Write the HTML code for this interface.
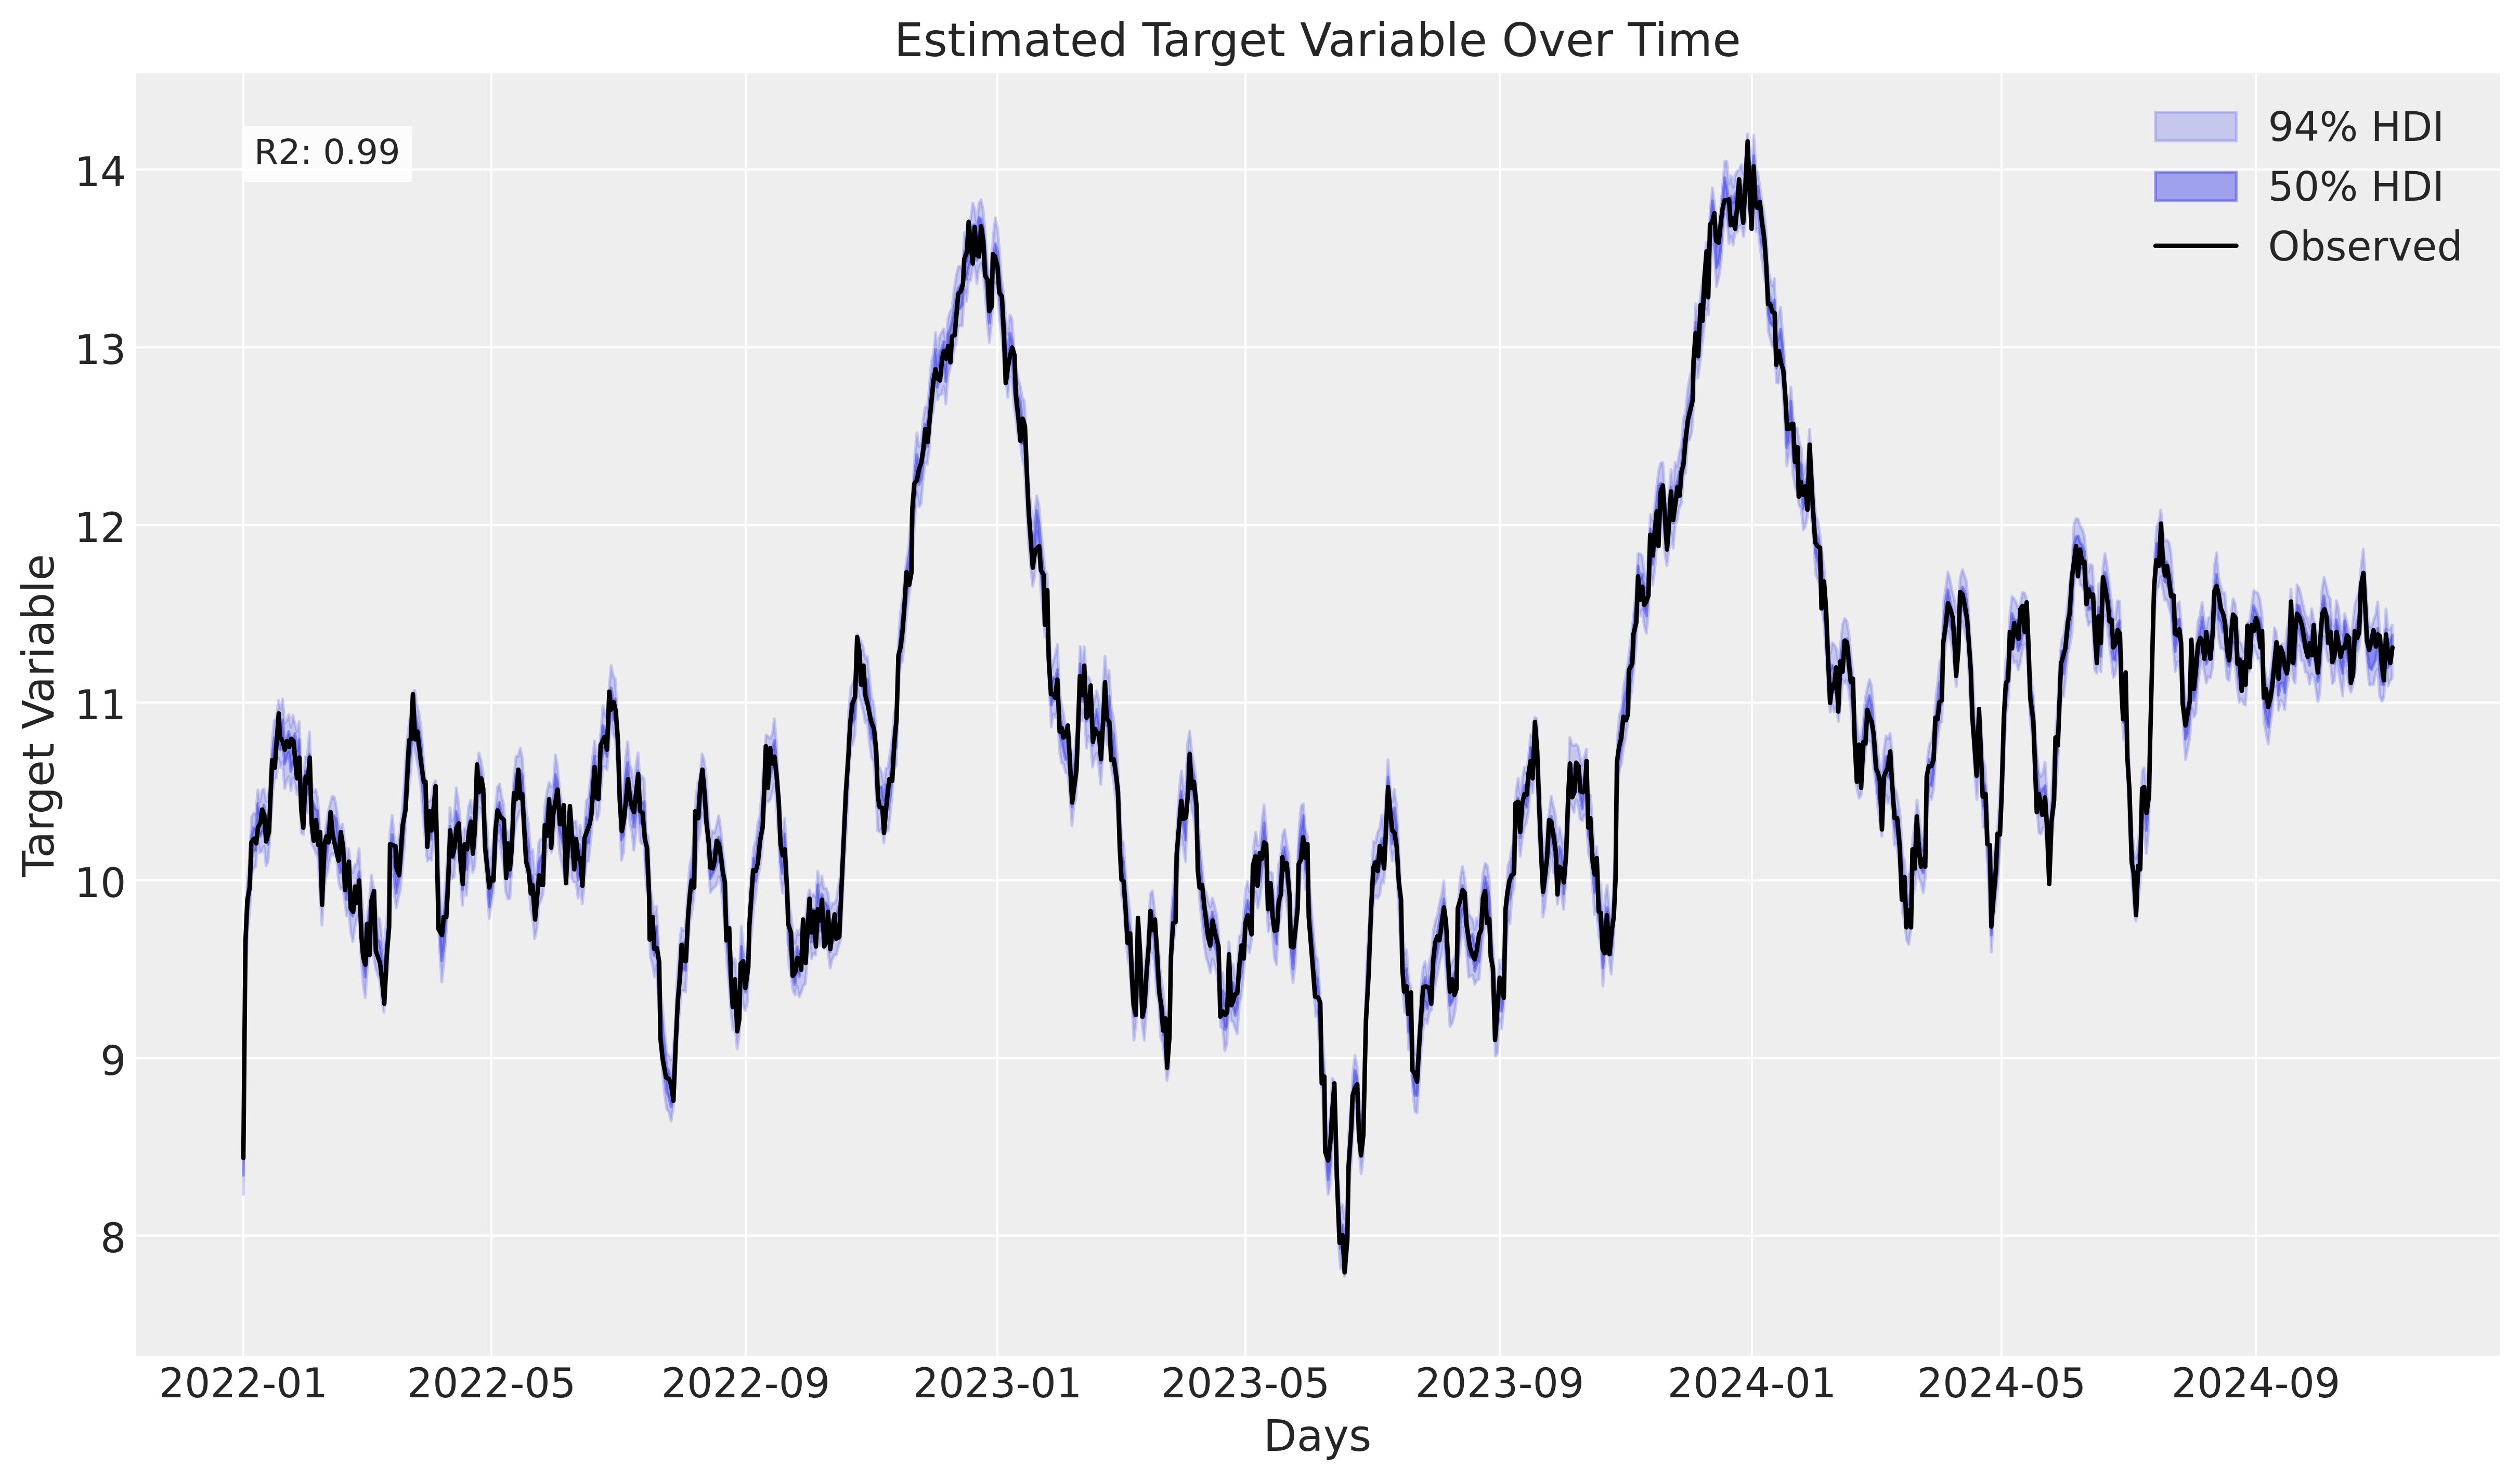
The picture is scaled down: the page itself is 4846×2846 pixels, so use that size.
<!DOCTYPE html>
<html><head><meta charset="utf-8"><title>Estimated Target Variable Over Time</title>
<style>
html,body{margin:0;padding:0;background:#fff;}
body{width:4846px;height:2846px;overflow:hidden;}
svg{display:block;}
text{font-family:"DejaVu Sans","Liberation Sans",sans-serif;fill:#262626;}
.tick{font-size:77.8px;}
.lab{font-size:83.3px;}
.ttl{font-size:88.9px;}
.leg{font-size:77.8px;}
.r2{font-size:66.7px;}
</style></head><body>
<svg width="4846" height="2846" viewBox="0 0 4846 2846">
<rect x="0" y="0" width="4846" height="2846" fill="#ffffff"/>
<rect x="262.0" y="141.0" width="4545.0" height="2466.0" fill="#eeeeee"/>
<clipPath id="ax"><rect x="262.0" y="141.0" width="4545.0" height="2466.0"/></clipPath>
<g stroke="#ffffff" stroke-width="4" clip-path="url(#ax)">
<line x1="468.0" y1="141.0" x2="468.0" y2="2607.0"/>
<line x1="945.0" y1="141.0" x2="945.0" y2="2607.0"/>
<line x1="1434.0" y1="141.0" x2="1434.0" y2="2607.0"/>
<line x1="1918.0" y1="141.0" x2="1918.0" y2="2607.0"/>
<line x1="2395.0" y1="141.0" x2="2395.0" y2="2607.0"/>
<line x1="2884.0" y1="141.0" x2="2884.0" y2="2607.0"/>
<line x1="3369.0" y1="141.0" x2="3369.0" y2="2607.0"/>
<line x1="3849.0" y1="141.0" x2="3849.0" y2="2607.0"/>
<line x1="4338.0" y1="141.0" x2="4338.0" y2="2607.0"/>
<line x1="262.0" y1="2376.0" x2="4807.0" y2="2376.0"/>
<line x1="262.0" y1="2035.0" x2="4807.0" y2="2035.0"/>
<line x1="262.0" y1="1693.0" x2="4807.0" y2="1693.0"/>
<line x1="262.0" y1="1351.0" x2="4807.0" y2="1351.0"/>
<line x1="262.0" y1="1010.0" x2="4807.0" y2="1010.0"/>
<line x1="262.0" y1="668.0" x2="4807.0" y2="668.0"/>
<line x1="262.0" y1="326.0" x2="4807.0" y2="326.0"/>
</g>
<g clip-path="url(#ax)" stroke-linejoin="round">
<polygon points="468.0,2185.0 472.0,1807.8 475.9,1689.4 479.9,1651.0 483.9,1570.5 487.9,1563.5 491.8,1564.8 495.8,1518.7 499.8,1542.0 503.8,1519.8 507.7,1516.6 511.7,1540.6 515.7,1539.8 519.7,1487.3 523.6,1421.4 527.6,1384.8 531.6,1381.8 535.5,1346.5 539.5,1362.8 543.5,1343.9 547.5,1390.8 551.4,1386.4 555.4,1373.7 559.4,1398.5 563.4,1375.0 567.3,1391.8 571.3,1406.3 575.3,1387.6 579.3,1481.8 583.2,1503.6 587.2,1455.3 591.2,1453.0 595.1,1407.6 599.1,1503.9 603.1,1523.3 607.1,1518.1 611.0,1534.2 615.0,1598.6 619.0,1672.3 623.0,1618.2 626.9,1589.4 630.9,1561.1 634.9,1545.3 638.9,1531.2 642.8,1532.8 646.8,1550.4 650.8,1582.7 654.7,1593.1 658.7,1584.8 662.7,1615.6 666.7,1652.1 670.6,1631.9 674.6,1669.3 678.6,1678.2 682.6,1662.1 686.5,1660.5 690.5,1631.6 694.5,1711.7 698.5,1761.9 702.4,1809.4 706.4,1755.6 710.4,1735.3 714.3,1683.1 718.3,1707.3 722.3,1744.3 726.3,1766.1 730.2,1766.2 734.2,1800.9 738.2,1827.4 742.2,1782.6 746.1,1740.6 750.1,1600.7 754.1,1568.1 758.1,1607.0 762.0,1633.8 766.0,1615.0 770.0,1593.7 773.9,1551.6 777.9,1500.5 781.9,1432.6 785.9,1399.2 789.8,1370.1 793.8,1330.4 797.8,1327.6 801.8,1355.9 805.7,1370.8 809.7,1399.8 813.7,1449.8 817.7,1497.1 821.6,1539.4 825.6,1540.4 829.6,1537.0 833.5,1509.4 837.5,1501.2 841.5,1604.3 845.5,1703.0 849.4,1768.5 853.4,1739.7 857.4,1690.0 861.4,1631.7 865.3,1553.0 869.3,1578.9 873.3,1569.7 877.3,1515.0 881.2,1539.1 885.2,1580.5 889.2,1635.2 893.1,1592.5 897.1,1597.1 901.1,1551.1 905.1,1538.4 909.0,1564.0 913.0,1534.8 917.0,1479.1 921.0,1447.9 924.9,1461.2 928.9,1485.2 932.9,1562.8 936.9,1598.5 940.8,1661.5 944.8,1638.5 948.8,1607.1 952.7,1558.5 956.7,1514.2 960.7,1507.7 964.7,1531.6 968.6,1546.3 972.6,1601.7 976.6,1598.6 980.6,1621.1 984.5,1558.3 988.5,1491.9 992.5,1453.8 996.4,1454.5 1000.4,1438.7 1004.4,1457.1 1008.4,1520.6 1012.3,1563.0 1016.3,1581.1 1020.3,1638.6 1024.3,1633.9 1028.2,1680.4 1032.2,1674.7 1036.2,1618.9 1040.2,1613.3 1044.1,1614.3 1048.1,1546.5 1052.1,1521.9 1056.0,1504.2 1060.0,1512.6 1064.0,1511.8 1068.0,1451.6 1071.9,1471.0 1075.9,1516.1 1079.9,1541.8 1083.9,1561.8 1087.8,1562.3 1091.8,1572.7 1095.8,1549.7 1099.8,1574.0 1103.7,1581.1 1107.7,1578.5 1111.7,1614.4 1115.6,1586.5 1119.6,1619.0 1123.6,1597.6 1127.6,1539.2 1131.5,1534.5 1135.5,1500.6 1139.5,1457.3 1143.5,1424.6 1147.4,1454.7 1151.4,1441.5 1155.4,1409.0 1159.4,1357.1 1163.3,1371.4 1167.3,1382.0 1171.3,1323.8 1175.2,1279.6 1179.2,1299.1 1183.2,1306.9 1187.2,1376.4 1191.1,1460.1 1195.1,1539.5 1199.1,1525.0 1203.1,1458.3 1207.0,1426.0 1211.0,1469.9 1215.0,1481.8 1219.0,1513.5 1222.9,1475.0 1226.9,1447.6 1230.9,1503.2 1234.8,1492.8 1238.8,1499.1 1242.8,1602.6 1246.8,1607.9 1250.7,1706.2 1254.7,1733.7 1258.7,1759.2 1262.7,1742.6 1266.6,1823.7 1270.6,1904.1 1274.6,1942.8 1278.6,1986.7 1282.5,2024.8 1286.5,2030.5 1290.5,2037.9 1294.4,2023.9 1298.4,1970.5 1302.4,1876.2 1306.4,1818.0 1310.3,1785.0 1314.3,1789.8 1318.3,1781.5 1322.3,1719.9 1326.2,1665.5 1330.2,1645.8 1334.2,1609.6 1338.2,1533.6 1342.1,1504.0 1346.1,1491.1 1350.1,1449.5 1354.0,1460.9 1358.0,1490.9 1362.0,1560.7 1366.0,1614.6 1369.9,1597.6 1373.9,1600.8 1377.9,1586.8 1381.9,1568.5 1385.8,1590.1 1389.8,1634.4 1393.8,1662.9 1397.8,1725.3 1401.7,1779.0 1405.7,1833.0 1409.7,1852.3 1413.6,1843.7 1417.6,1895.8 1421.6,1880.0 1425.6,1781.1 1429.5,1823.8 1433.5,1840.6 1437.5,1821.7 1441.5,1713.8 1445.4,1674.1 1449.4,1629.7 1453.4,1616.0 1457.4,1583.1 1461.3,1568.2 1465.3,1519.2 1469.3,1461.2 1473.2,1413.1 1477.2,1416.3 1481.2,1420.4 1485.2,1411.5 1489.1,1382.1 1493.1,1428.6 1497.1,1502.1 1501.1,1574.2 1505.0,1600.2 1509.0,1573.5 1513.0,1648.9 1517.0,1733.7 1520.9,1757.8 1524.9,1790.9 1528.9,1813.5 1532.8,1788.4 1536.8,1797.4 1540.8,1783.9 1544.8,1765.2 1548.7,1776.5 1552.7,1727.1 1556.7,1711.1 1560.7,1724.0 1564.6,1719.6 1568.6,1725.0 1572.6,1675.1 1576.6,1703.3 1580.5,1684.6 1584.5,1708.6 1588.5,1707.5 1592.4,1718.4 1596.4,1748.0 1600.4,1737.0 1604.4,1737.4 1608.3,1730.4 1612.3,1703.7 1616.3,1682.1 1620.3,1605.1 1624.2,1525.1 1628.2,1469.7 1632.2,1365.7 1636.2,1321.5 1640.1,1314.1 1644.1,1304.2 1648.1,1219.2 1652.0,1227.4 1656.0,1232.6 1660.0,1245.1 1664.0,1266.2 1667.9,1262.2 1671.9,1299.4 1675.9,1341.4 1679.9,1349.7 1683.8,1391.5 1687.8,1469.3 1691.8,1476.5 1695.8,1485.4 1699.7,1509.1 1703.7,1477.5 1707.7,1476.0 1711.6,1449.0 1715.6,1421.4 1719.6,1373.0 1723.6,1361.3 1727.5,1239.1 1731.5,1177.6 1735.5,1152.6 1739.5,1112.6 1743.4,1075.4 1747.4,1053.9 1751.4,998.6 1755.4,938.2 1759.3,875.4 1763.3,832.1 1767.3,858.6 1771.2,853.1 1775.2,807.7 1779.2,782.5 1783.2,783.8 1787.1,745.5 1791.1,695.7 1795.1,679.7 1799.1,639.6 1803.0,674.5 1807.0,646.3 1811.0,638.6 1815.0,632.3 1818.9,657.7 1822.9,613.8 1826.9,599.2 1830.8,593.1 1834.8,557.3 1838.8,530.4 1842.8,513.0 1846.7,512.2 1850.7,521.6 1854.7,447.2 1858.7,467.7 1862.6,424.5 1866.6,421.1 1870.6,390.3 1874.6,402.1 1878.5,430.4 1882.5,392.3 1886.5,383.8 1890.4,402.3 1894.4,442.9 1898.4,506.3 1902.4,541.9 1906.3,516.7 1910.3,449.3 1914.3,419.0 1918.3,438.7 1922.2,486.3 1926.2,537.1 1930.2,566.1 1934.1,610.2 1938.1,642.8 1942.1,605.9 1946.1,613.4 1950.0,671.9 1954.0,708.2 1958.0,728.5 1962.0,742.0 1965.9,764.5 1969.9,770.7 1973.9,842.0 1977.9,930.2 1981.8,968.2 1985.8,1011.8 1989.8,987.3 1993.7,953.3 1997.7,970.4 2001.7,1018.4 2005.7,1057.8 2009.6,1097.7 2013.6,1102.4 2017.6,1211.9 2021.6,1287.9 2025.5,1271.6 2029.5,1257.9 2033.5,1239.3 2037.5,1328.8 2041.4,1356.7 2045.4,1372.5 2049.4,1399.6 2053.3,1394.9 2057.3,1413.7 2061.3,1470.9 2065.3,1445.3 2069.2,1421.4 2073.2,1334.8 2077.2,1242.7 2081.2,1274.9 2085.1,1243.9 2089.1,1304.1 2093.1,1300.8 2097.1,1310.6 2101.0,1363.9 2105.0,1345.2 2109.0,1328.5 2112.9,1345.2 2116.9,1380.4 2120.9,1322.2 2124.9,1262.0 2128.8,1304.2 2132.8,1288.9 2136.8,1360.0 2140.8,1377.4 2144.7,1408.2 2148.7,1454.6 2152.7,1530.5 2156.7,1612.3 2160.6,1621.3 2164.6,1683.9 2168.6,1719.9 2172.5,1748.6 2176.5,1810.4 2180.5,1880.0 2184.5,1846.7 2188.4,1765.8 2192.4,1795.9 2196.4,1852.0 2200.4,1867.8 2204.3,1828.2 2208.3,1780.7 2212.3,1718.4 2216.3,1713.2 2220.2,1748.0 2224.2,1802.8 2228.2,1826.5 2232.1,1877.9 2236.1,1900.3 2240.1,1937.8 2244.1,1965.9 2248.0,1943.4 2252.0,1764.8 2256.0,1707.8 2260.0,1660.5 2263.9,1581.4 2267.9,1517.5 2271.9,1482.2 2275.9,1512.6 2279.8,1527.7 2283.8,1429.8 2287.8,1406.0 2291.7,1446.0 2295.7,1465.4 2299.7,1498.6 2303.7,1569.9 2307.6,1624.3 2311.6,1663.3 2315.6,1708.4 2319.6,1716.2 2323.5,1732.7 2327.5,1743.2 2331.5,1727.0 2335.5,1740.2 2339.4,1756.5 2343.4,1794.2 2347.4,1873.2 2351.3,1870.4 2355.3,1911.0 2359.3,1895.0 2363.3,1810.7 2367.2,1860.1 2371.2,1854.0 2375.2,1882.2 2379.2,1864.0 2383.1,1800.4 2387.1,1797.2 2391.1,1766.0 2395.1,1709.5 2399.0,1694.8 2403.0,1714.6 2407.0,1698.1 2410.9,1627.4 2414.9,1600.1 2418.9,1626.1 2422.9,1623.5 2426.8,1579.2 2430.8,1547.1 2434.8,1591.0 2438.8,1677.9 2442.7,1676.7 2446.7,1679.2 2450.7,1729.5 2454.7,1750.2 2458.6,1663.3 2462.6,1648.4 2466.6,1604.3 2470.5,1595.1 2474.5,1622.5 2478.5,1640.9 2482.5,1732.2 2486.4,1779.3 2490.4,1745.2 2494.4,1681.2 2498.4,1587.5 2502.3,1549.6 2506.3,1545.8 2510.3,1596.6 2514.3,1607.7 2518.2,1700.7 2522.2,1750.2 2526.2,1796.7 2530.1,1838.1 2534.1,1845.1 2538.1,1908.4 2542.1,1982.1 2546.0,2032.8 2550.0,2127.8 2554.0,2183.3 2558.0,2158.4 2561.9,2073.8 2565.9,2080.3 2569.9,2161.5 2573.9,2278.0 2577.8,2322.5 2581.8,2316.6 2585.8,2343.3 2589.7,2313.0 2593.7,2176.3 2597.7,2134.8 2601.7,2062.5 2605.6,2029.3 2609.6,2049.4 2613.6,2113.7 2617.6,2144.1 2621.5,2093.0 2625.5,1944.3 2629.5,1823.1 2633.5,1765.2 2637.4,1672.2 2641.4,1617.5 2645.4,1619.7 2649.3,1600.2 2653.3,1592.7 2657.3,1567.0 2661.3,1597.2 2665.2,1535.5 2669.2,1460.8 2673.2,1512.7 2677.2,1542.6 2681.1,1517.3 2685.1,1545.9 2689.1,1614.9 2693.1,1698.8 2697.0,1778.7 2701.0,1835.1 2705.0,1826.3 2708.9,1885.8 2712.9,1896.1 2716.9,1987.1 2720.9,2022.8 2724.8,2029.7 2728.8,1973.4 2732.8,1898.3 2736.8,1858.9 2740.7,1849.1 2744.7,1878.9 2748.7,1851.2 2752.7,1833.4 2756.6,1787.3 2760.6,1770.2 2764.6,1758.4 2768.5,1735.4 2772.5,1720.3 2776.5,1693.6 2780.5,1757.3 2784.4,1816.8 2788.4,1859.9 2792.4,1849.6 2796.4,1842.9 2800.3,1831.7 2804.3,1735.7 2808.3,1687.2 2812.3,1666.5 2816.2,1685.4 2820.2,1721.7 2824.2,1757.1 2828.1,1763.1 2832.1,1767.4 2836.1,1787.4 2840.1,1764.8 2844.0,1779.6 2848.0,1721.6 2852.0,1677.2 2856.0,1660.0 2859.9,1664.6 2863.9,1691.3 2867.9,1787.4 2871.9,1831.6 2875.8,1920.2 2879.8,1903.6 2883.8,1846.0 2887.7,1862.7 2891.7,1830.9 2895.7,1740.2 2899.7,1665.6 2903.6,1653.3 2907.6,1628.2 2911.6,1619.3 2915.6,1519.7 2919.5,1496.2 2923.5,1527.8 2927.5,1498.7 2931.4,1475.2 2935.4,1487.6 2939.4,1456.2 2943.4,1412.4 2947.3,1415.6 2951.3,1379.1 2955.3,1381.5 2959.3,1477.5 2963.2,1548.2 2967.2,1648.8 2971.2,1624.0 2975.2,1585.1 2979.1,1562.0 2983.1,1531.2 2987.1,1551.0 2991.0,1565.4 2995.0,1620.0 2999.0,1590.8 3003.0,1607.9 3006.9,1635.8 3010.9,1594.4 3014.9,1515.6 3018.9,1418.0 3022.8,1432.1 3026.8,1433.6 3030.8,1431.3 3034.8,1435.5 3038.7,1456.1 3042.7,1472.4 3046.7,1454.9 3050.6,1440.6 3054.6,1529.2 3058.6,1528.9 3062.6,1583.0 3066.5,1643.9 3070.5,1628.1 3074.5,1691.8 3078.5,1702.4 3082.4,1787.1 3086.4,1728.1 3090.4,1702.5 3094.4,1741.1 3098.3,1776.3 3102.3,1720.4 3106.3,1610.1 3110.2,1419.3 3114.2,1374.5 3118.2,1362.3 3122.2,1319.5 3126.1,1301.3 3130.1,1278.4 3134.1,1244.1 3138.1,1213.0 3142.0,1178.2 3146.0,1134.5 3150.0,1064.2 3154.0,1064.9 3157.9,1068.3 3161.9,1099.2 3165.9,1113.2 3169.8,1065.1 3173.8,989.3 3177.8,1000.8 3181.8,974.5 3185.7,937.2 3189.7,905.1 3193.7,890.2 3197.7,889.5 3201.6,954.5 3205.6,969.4 3209.6,947.8 3213.6,902.6 3217.5,934.7 3221.5,889.3 3225.5,897.3 3229.4,869.9 3233.4,857.7 3237.4,804.2 3241.4,794.0 3245.3,749.2 3249.3,726.5 3253.3,710.3 3257.3,660.6 3261.2,583.7 3265.2,614.3 3269.2,577.1 3273.2,542.6 3277.1,525.8 3281.1,466.1 3285.1,501.3 3289.0,401.3 3293.0,361.2 3297.0,389.8 3301.0,444.5 3304.9,426.5 3308.9,401.2 3312.9,353.9 3316.9,310.3 3320.8,310.3 3324.8,353.8 3328.8,337.9 3332.8,360.8 3336.7,336.9 3340.7,327.9 3344.7,326.6 3348.6,316.4 3352.6,334.7 3356.6,309.4 3360.6,257.4 3364.5,289.9 3368.5,314.9 3372.5,259.9 3376.5,321.8 3380.4,332.3 3384.4,361.1 3388.4,388.5 3392.4,410.0 3396.3,443.8 3400.3,520.0 3404.3,535.6 3408.2,550.2 3412.2,535.5 3416.2,626.1 3420.2,605.7 3424.1,590.8 3428.1,641.1 3432.1,694.2 3436.1,782.6 3440.0,772.5 3444.0,744.0 3448.0,803.1 3452.0,821.4 3455.9,823.5 3459.9,850.0 3463.9,862.6 3467.8,912.7 3471.8,898.8 3475.8,880.6 3479.8,825.8 3483.7,883.3 3487.7,938.9 3491.7,990.4 3495.7,1002.0 3499.6,1026.2 3503.6,1061.7 3507.6,1089.8 3511.6,1154.1 3515.5,1220.7 3519.5,1257.0 3523.5,1235.9 3527.4,1239.4 3531.4,1247.7 3535.4,1274.4 3539.4,1240.0 3543.3,1201.1 3547.3,1189.2 3551.3,1194.1 3555.3,1217.3 3559.2,1257.6 3563.2,1296.4 3567.2,1370.5 3571.2,1393.8 3575.1,1422.4 3579.1,1420.4 3583.1,1390.1 3587.0,1342.0 3591.0,1323.3 3595.0,1306.6 3599.0,1318.6 3602.9,1360.0 3606.9,1412.4 3610.9,1444.4 3614.9,1475.6 3618.8,1484.8 3622.8,1443.5 3626.8,1414.6 3630.8,1420.6 3634.7,1410.5 3638.7,1444.9 3642.7,1514.2 3646.6,1522.2 3650.6,1541.5 3654.6,1572.9 3658.6,1643.4 3662.5,1655.4 3666.5,1704.1 3670.5,1681.3 3674.5,1672.6 3678.4,1610.4 3682.4,1583.7 3686.4,1539.0 3690.4,1570.8 3694.3,1601.5 3698.3,1615.0 3702.3,1584.8 3706.2,1460.1 3710.2,1431.7 3714.2,1424.9 3718.2,1401.6 3722.1,1345.1 3726.1,1313.9 3730.1,1273.7 3734.1,1263.7 3738.0,1154.7 3742.0,1128.6 3746.0,1100.1 3750.0,1115.3 3753.9,1136.1 3757.9,1150.2 3761.9,1177.2 3765.8,1159.4 3769.8,1109.8 3773.8,1095.1 3777.8,1106.8 3781.7,1118.9 3785.7,1177.9 3789.7,1241.8 3793.7,1292.9 3797.6,1378.3 3801.6,1426.1 3805.6,1369.1 3809.6,1390.6 3813.5,1459.9 3817.5,1474.0 3821.5,1541.1 3825.4,1633.4 3829.4,1721.1 3833.4,1652.6 3837.4,1625.9 3841.3,1595.0 3845.3,1532.3 3849.3,1463.3 3853.3,1374.5 3857.2,1270.8 3861.2,1250.6 3865.2,1179.8 3869.1,1146.8 3873.1,1150.9 3877.1,1158.0 3881.1,1169.8 3885.0,1164.0 3889.0,1139.1 3893.0,1140.3 3897.0,1150.9 3900.9,1203.1 3904.9,1297.8 3908.9,1322.0 3912.9,1389.0 3916.8,1448.6 3920.8,1483.3 3924.8,1493.1 3928.7,1485.4 3932.7,1465.6 3936.7,1529.8 3940.7,1578.1 3944.6,1532.1 3948.6,1464.7 3952.6,1415.5 3956.6,1363.4 3960.5,1277.0 3964.5,1230.7 3968.5,1221.7 3972.5,1193.4 3976.4,1157.2 3980.4,1117.5 3984.4,1091.4 3988.3,1008.2 3992.3,997.0 3996.3,998.1 4000.3,1010.9 4004.2,1017.5 4008.2,1029.0 4012.2,1072.9 4016.2,1100.1 4020.1,1085.3 4024.1,1088.3 4028.1,1174.5 4032.1,1182.3 4036.0,1122.6 4040.0,1180.6 4044.0,1092.6 4047.9,1064.2 4051.9,1087.6 4055.9,1121.4 4059.9,1151.6 4063.8,1183.9 4067.8,1191.2 4071.8,1155.6 4075.8,1155.8 4079.7,1252.7 4083.7,1310.2 4087.7,1312.8 4091.7,1392.9 4095.6,1505.1 4099.6,1586.2 4103.6,1636.5 4107.5,1651.6 4111.5,1623.6 4115.5,1584.5 4119.5,1482.5 4123.4,1476.2 4127.4,1516.4 4131.4,1479.5 4135.4,1342.7 4139.3,1185.7 4143.3,1070.3 4147.3,1011.6 4151.3,1004.4 4155.2,980.6 4159.2,1023.2 4163.2,1040.8 4167.1,1038.1 4171.1,1043.3 4175.1,1065.6 4179.1,1126.6 4183.0,1180.5 4187.0,1161.3 4191.0,1157.5 4195.0,1209.2 4198.9,1297.9 4202.9,1357.6 4206.9,1341.1 4210.9,1299.4 4214.8,1245.3 4218.8,1267.7 4222.8,1242.3 4226.7,1195.9 4230.7,1183.2 4234.7,1158.3 4238.7,1189.7 4242.6,1209.0 4246.6,1188.1 4250.6,1187.6 4254.6,1162.4 4258.5,1086.2 4262.5,1062.7 4266.5,1110.7 4270.5,1126.6 4274.4,1141.5 4278.4,1139.5 4282.4,1194.3 4286.3,1203.8 4290.3,1182.1 4294.3,1151.7 4298.3,1161.2 4302.2,1192.2 4306.2,1233.9 4310.2,1237.6 4314.2,1253.4 4318.1,1247.7 4322.1,1196.9 4326.1,1194.2 4330.1,1164.2 4334.0,1135.6 4338.0,1137.4 4342.0,1141.3 4345.9,1152.4 4349.9,1181.4 4353.9,1279.9 4357.9,1302.8 4361.8,1320.6 4365.8,1297.4 4369.8,1267.2 4373.8,1207.4 4377.7,1216.3 4381.7,1271.8 4385.7,1240.0 4389.7,1237.3 4393.6,1252.8 4397.6,1212.4 4401.6,1191.3 4405.5,1132.8 4409.5,1191.9 4413.5,1203.9 4417.5,1124.8 4421.4,1131.2 4425.4,1147.6 4429.4,1165.0 4433.4,1182.9 4437.3,1188.5 4441.3,1206.5 4445.3,1170.6 4449.3,1191.3 4453.2,1204.8 4457.2,1238.6 4461.2,1211.4 4465.1,1134.6 4469.1,1110.2 4473.1,1125.3 4477.1,1144.0 4481.0,1151.5 4485.0,1202.2 4489.0,1202.6 4493.0,1155.1 4496.9,1169.2 4500.9,1205.1 4504.9,1221.3 4508.9,1179.8 4512.8,1195.3 4516.8,1212.7 4520.8,1227.6 4524.7,1196.1 4528.7,1161.1 4532.7,1150.0 4536.7,1135.0 4540.6,1089.3 4544.6,1056.0 4548.6,1109.4 4552.6,1176.8 4556.5,1204.1 4560.5,1205.9 4564.5,1191.7 4568.5,1181.2 4572.4,1157.8 4576.4,1219.7 4580.4,1238.6 4584.3,1239.0 4588.3,1170.8 4592.3,1210.8 4596.3,1210.6 4600.2,1201.9 4600.2,1304.8 4596.3,1308.9 4592.3,1319.1 4588.3,1274.3 4584.3,1340.6 4580.4,1348.9 4576.4,1338.5 4572.4,1286.4 4568.5,1295.0 4564.5,1316.2 4560.5,1315.9 4556.5,1317.7 4552.6,1284.6 4548.6,1222.2 4544.6,1175.7 4540.6,1201.2 4536.7,1244.3 4532.7,1256.6 4528.7,1292.5 4524.7,1317.3 4520.8,1331.2 4516.8,1318.6 4512.8,1294.4 4508.9,1271.4 4504.9,1338.5 4500.9,1313.2 4496.9,1291.6 4493.0,1270.4 4489.0,1309.6 4485.0,1314.6 4481.0,1270.7 4477.1,1271.7 4473.1,1250.5 4469.1,1224.3 4465.1,1252.0 4461.2,1332.1 4457.2,1349.8 4453.2,1321.2 4449.3,1301.6 4445.3,1295.6 4441.3,1315.4 4437.3,1293.8 4433.4,1292.7 4429.4,1270.9 4425.4,1270.5 4421.4,1241.3 4417.5,1246.4 4413.5,1313.9 4409.5,1305.2 4405.5,1249.8 4401.6,1303.8 4397.6,1322.3 4393.6,1365.1 4389.7,1351.1 4385.7,1346.9 4381.7,1366.0 4377.7,1319.1 4373.8,1328.0 4369.8,1366.7 4365.8,1394.7 4361.8,1430.7 4357.9,1411.0 4353.9,1388.1 4349.9,1291.3 4345.9,1266.3 4342.0,1267.2 4338.0,1255.4 4334.0,1241.2 4330.1,1275.0 4326.1,1290.8 4322.1,1295.5 4318.1,1355.9 4314.2,1353.2 4310.2,1344.3 4306.2,1351.1 4302.2,1321.4 4298.3,1279.2 4294.3,1266.6 4290.3,1274.2 4286.3,1308.8 4282.4,1304.4 4278.4,1252.6 4274.4,1247.1 4270.5,1247.1 4266.5,1228.2 4262.5,1182.0 4258.5,1217.8 4254.6,1284.4 4250.6,1303.8 4246.6,1301.2 4242.6,1313.6 4238.7,1291.0 4234.7,1266.4 4230.7,1285.8 4226.7,1314.0 4222.8,1371.4 4218.8,1379.2 4214.8,1361.9 4210.9,1420.6 4206.9,1441.5 4202.9,1460.6 4198.9,1404.3 4195.0,1321.6 4191.0,1272.6 4187.0,1273.5 4183.0,1291.2 4179.1,1241.2 4175.1,1184.2 4171.1,1168.7 4167.1,1153.2 4163.2,1154.8 4159.2,1133.6 4155.2,1108.7 4151.3,1127.3 4147.3,1133.3 4143.3,1181.2 4139.3,1292.4 4135.4,1458.5 4131.4,1602.9 4127.4,1641.3 4123.4,1592.4 4119.5,1594.2 4115.5,1697.0 4111.5,1736.3 4107.5,1771.3 4103.6,1748.6 4099.6,1689.1 4095.6,1614.9 4091.7,1507.7 4087.7,1430.8 4083.7,1421.3 4079.7,1357.4 4075.8,1267.5 4071.8,1270.8 4067.8,1296.1 4063.8,1302.9 4059.9,1268.4 4055.9,1236.1 4051.9,1201.9 4047.9,1182.5 4044.0,1207.8 4040.0,1291.7 4036.0,1257.6 4032.1,1294.7 4028.1,1287.6 4024.1,1196.8 4020.1,1196.0 4016.2,1202.7 4012.2,1183.4 4008.2,1138.6 4004.2,1127.2 4000.3,1124.8 3996.3,1099.9 3992.3,1103.4 3988.3,1127.0 3984.4,1218.6 3980.4,1242.2 3976.4,1259.0 3972.5,1302.4 3968.5,1339.5 3964.5,1332.5 3960.5,1396.4 3956.6,1480.6 3952.6,1522.2 3948.6,1580.4 3944.6,1653.6 3940.7,1687.7 3936.7,1645.8 3932.7,1592.0 3928.7,1592.0 3924.8,1604.0 3920.8,1601.5 3916.8,1554.6 3912.9,1503.0 3908.9,1422.5 3904.9,1392.5 3900.9,1306.9 3897.0,1248.7 3893.0,1237.5 3889.0,1250.7 3885.0,1274.9 3881.1,1288.3 3877.1,1271.8 3873.1,1274.5 3869.1,1259.4 3865.2,1294.6 3861.2,1356.4 3857.2,1371.7 3853.3,1478.9 3849.3,1569.6 3845.3,1638.6 3841.3,1705.7 3837.4,1740.6 3833.4,1765.4 3829.4,1830.6 3825.4,1733.4 3821.5,1656.3 3817.5,1592.5 3813.5,1590.8 3809.6,1497.8 3805.6,1485.7 3801.6,1537.5 3797.6,1491.0 3793.7,1420.0 3789.7,1371.4 3785.7,1281.0 3781.7,1228.6 3777.8,1215.6 3773.8,1195.6 3769.8,1209.5 3765.8,1267.6 3761.9,1320.0 3757.9,1278.5 3753.9,1246.0 3750.0,1228.1 3746.0,1213.5 3742.0,1239.8 3738.0,1268.5 3734.1,1388.0 3730.1,1392.1 3726.1,1425.1 3722.1,1455.5 3718.2,1519.0 3714.2,1537.3 3710.2,1530.6 3706.2,1560.0 3702.3,1690.5 3698.3,1717.1 3694.3,1697.0 3690.4,1689.9 3686.4,1671.7 3682.4,1707.3 3678.4,1722.0 3674.5,1789.0 3670.5,1816.5 3666.5,1807.8 3662.5,1773.1 3658.6,1756.0 3654.6,1695.8 3650.6,1649.1 3646.6,1622.5 3642.7,1625.0 3638.7,1556.4 3634.7,1531.5 3630.8,1545.4 3626.8,1528.6 3622.8,1562.8 3618.8,1608.2 3614.9,1578.3 3610.9,1553.7 3606.9,1503.2 3602.9,1477.6 3599.0,1430.0 3595.0,1425.2 3591.0,1422.6 3587.0,1447.8 3583.1,1484.6 3579.1,1528.3 3575.1,1534.8 3571.2,1517.3 3567.2,1475.7 3563.2,1406.4 3559.2,1362.2 3555.3,1329.1 3551.3,1308.4 3547.3,1313.8 3543.3,1307.4 3539.4,1350.4 3535.4,1387.5 3531.4,1359.6 3527.4,1369.4 3523.5,1355.2 3519.5,1369.9 3515.5,1329.6 3511.6,1258.5 3507.6,1199.5 3503.6,1171.8 3499.6,1126.5 3495.7,1114.4 3491.7,1105.4 3487.7,1039.6 3483.7,999.8 3479.8,943.3 3475.8,992.8 3471.8,1012.6 3467.8,1018.7 3463.9,977.9 3459.9,972.4 3455.9,948.0 3452.0,936.0 3448.0,913.2 3444.0,849.8 3440.0,875.3 3436.1,896.0 3432.1,810.0 3428.1,749.3 3424.1,709.5 3420.2,736.9 3416.2,735.5 3412.2,652.3 3408.2,666.9 3404.3,652.0 3400.3,635.6 3396.3,554.3 3392.4,527.8 3388.4,502.1 3384.4,472.3 3380.4,439.3 3376.5,444.9 3372.5,373.7 3368.5,429.1 3364.5,401.0 3360.6,358.4 3356.6,426.0 3352.6,454.5 3348.6,432.4 3344.7,435.1 3340.7,446.9 3336.7,444.9 3332.8,471.3 3328.8,454.3 3324.8,468.6 3320.8,420.6 3316.9,411.7 3312.9,454.5 3308.9,512.9 3304.9,534.2 3301.0,551.5 3297.0,493.1 3293.0,469.7 3289.0,514.0 3285.1,605.7 3281.1,594.3 3277.1,630.5 3273.2,664.0 3269.2,698.4 3265.2,727.3 3261.2,698.3 3257.3,774.6 3253.3,830.9 3249.3,845.2 3245.3,849.6 3241.4,909.5 3237.4,913.5 3233.4,969.3 3229.4,975.3 3225.5,999.8 3221.5,1009.8 3217.5,1054.2 3213.6,1024.5 3209.6,1055.4 3205.6,1088.0 3201.6,1064.7 3197.7,1007.0 3193.7,997.2 3189.7,1009.4 3185.7,1052.0 3181.8,1099.7 3177.8,1125.4 3173.8,1101.4 3169.8,1179.4 3165.9,1218.1 3161.9,1203.6 3157.9,1170.7 3154.0,1184.9 3150.0,1165.4 3146.0,1247.4 3142.0,1284.9 3138.1,1327.4 3134.1,1349.6 3130.1,1389.7 3126.1,1419.3 3122.2,1437.1 3118.2,1468.8 3114.2,1478.7 3110.2,1538.9 3106.3,1714.5 3102.3,1822.9 3098.3,1873.0 3094.4,1844.6 3090.4,1813.6 3086.4,1839.0 3082.4,1896.3 3078.5,1818.1 3074.5,1800.4 3070.5,1743.5 3066.5,1759.1 3062.6,1706.4 3058.6,1655.5 3054.6,1640.5 3050.6,1570.8 3046.7,1566.9 3042.7,1578.2 3038.7,1574.7 3034.8,1546.8 3030.8,1537.5 3026.8,1562.2 3022.8,1552.6 3018.9,1544.4 3014.9,1619.6 3010.9,1693.8 3006.9,1748.7 3003.0,1722.4 2999.0,1710.5 2995.0,1738.7 2991.0,1684.0 2987.1,1676.4 2983.1,1641.2 2979.1,1676.0 2975.2,1697.8 2971.2,1743.8 2967.2,1763.0 2963.2,1662.6 2959.3,1613.2 2955.3,1495.0 2951.3,1487.9 2947.3,1525.0 2943.4,1506.0 2939.4,1559.5 2935.4,1582.1 2931.4,1590.8 2927.5,1611.0 2923.5,1646.4 2919.5,1609.9 2915.6,1615.6 2911.6,1708.2 2907.6,1721.2 2903.6,1776.4 2899.7,1769.8 2895.7,1853.6 2891.7,1935.6 2887.7,1978.2 2883.8,1959.8 2879.8,2024.4 2875.8,2030.9 2871.9,1937.8 2867.9,1882.1 2863.9,1795.6 2859.9,1780.9 2856.0,1775.7 2852.0,1803.4 2848.0,1840.2 2844.0,1884.1 2840.1,1884.1 2836.1,1892.9 2832.1,1875.5 2828.1,1877.1 2824.2,1879.3 2820.2,1827.5 2816.2,1801.3 2812.3,1782.6 2808.3,1817.4 2804.3,1852.5 2800.3,1928.5 2796.4,1954.3 2792.4,1967.6 2788.4,1974.2 2784.4,1916.5 2780.5,1868.5 2776.5,1806.0 2772.5,1835.5 2768.5,1852.5 2764.6,1872.9 2760.6,1892.5 2756.6,1913.2 2752.7,1942.5 2748.7,1946.4 2744.7,1968.6 2740.7,1959.2 2736.8,1977.9 2732.8,2022.9 2728.8,2088.8 2724.8,2140.3 2720.9,2137.5 2716.9,2096.6 2712.9,2023.4 2708.9,2018.1 2705.0,1934.5 2701.0,1946.9 2697.0,1900.5 2693.1,1812.7 2689.1,1735.5 2685.1,1660.9 2681.1,1635.7 2677.2,1655.6 2673.2,1626.8 2669.2,1577.6 2665.2,1643.9 2661.3,1698.1 2657.3,1692.6 2653.3,1720.5 2649.3,1727.8 2645.4,1722.6 2641.4,1732.2 2637.4,1793.7 2633.5,1883.8 2629.5,1939.8 2625.5,2057.0 2621.5,2227.7 2617.6,2257.1 2613.6,2214.2 2609.6,2144.9 2605.6,2129.2 2601.7,2174.6 2597.7,2245.3 2593.7,2289.6 2589.7,2434.7 2585.8,2454.8 2581.8,2434.4 2577.8,2439.9 2573.9,2388.8 2569.9,2282.2 2565.9,2184.6 2561.9,2197.9 2558.0,2279.5 2554.0,2296.4 2550.0,2248.4 2546.0,2150.2 2542.1,2096.6 2538.1,2040.6 2534.1,1945.9 2530.1,1955.3 2526.2,1905.9 2522.2,1857.4 2518.2,1799.2 2514.3,1714.3 2510.3,1710.5 2506.3,1649.4 2502.3,1673.4 2498.4,1708.3 2494.4,1777.6 2490.4,1858.7 2486.4,1889.7 2482.5,1858.8 2478.5,1771.1 2474.5,1738.8 2470.5,1712.6 2466.6,1718.5 2462.6,1764.9 2458.6,1778.6 2454.7,1855.0 2450.7,1842.6 2446.7,1791.2 2442.7,1775.8 2438.8,1791.6 2434.8,1710.9 2430.8,1661.2 2426.8,1698.3 2422.9,1725.8 2418.9,1746.6 2414.9,1715.3 2410.9,1742.3 2407.0,1805.1 2403.0,1832.2 2399.0,1818.8 2395.1,1835.5 2391.1,1880.6 2387.1,1914.7 2383.1,1931.5 2379.2,1987.9 2375.2,1978.1 2371.2,1965.0 2367.2,1962.7 2363.3,1906.4 2359.3,2007.3 2355.3,2020.9 2351.3,1978.3 2347.4,1975.0 2343.4,1896.2 2339.4,1869.3 2335.5,1855.4 2331.5,1844.5 2327.5,1870.4 2323.5,1853.0 2319.6,1841.9 2315.6,1815.0 2311.6,1775.0 2307.6,1739.7 2303.7,1691.0 2299.7,1615.9 2295.7,1572.1 2291.7,1560.5 2287.8,1525.7 2283.8,1547.0 2279.8,1656.8 2275.9,1630.4 2271.9,1607.6 2267.9,1635.3 2263.9,1700.9 2260.0,1783.9 2256.0,1819.4 2252.0,1877.9 2248.0,2055.8 2244.1,2077.9 2240.1,2038.3 2236.1,2006.3 2232.1,1996.0 2228.2,1927.2 2224.2,1911.1 2220.2,1849.5 2216.3,1833.5 2212.3,1831.5 2208.3,1896.8 2204.3,1950.2 2200.4,2000.4 2196.4,1968.2 2192.4,1915.8 2188.4,1892.8 2184.5,1971.7 2180.5,2000.6 2176.5,1922.6 2172.5,1861.2 2168.6,1844.5 2164.6,1797.5 2160.6,1739.8 2156.7,1721.7 2152.7,1644.8 2148.7,1563.8 2144.7,1530.5 2140.8,1495.7 2136.8,1477.0 2132.8,1414.4 2128.8,1432.6 2124.9,1386.0 2120.9,1444.7 2116.9,1508.4 2112.9,1473.7 2109.0,1448.4 2105.0,1458.0 2101.0,1475.1 2097.1,1424.1 2093.1,1415.9 2089.1,1438.8 2085.1,1363.2 2081.2,1386.1 2077.2,1356.9 2073.2,1456.2 2069.2,1536.2 2065.3,1548.8 2061.3,1588.3 2057.3,1528.5 2053.3,1488.0 2049.4,1486.1 2045.4,1470.1 2041.4,1467.4 2037.5,1443.2 2033.5,1361.5 2029.5,1379.9 2025.5,1373.1 2021.6,1398.2 2017.6,1318.3 2013.6,1231.1 2009.6,1224.2 2005.7,1181.9 2001.7,1137.4 1997.7,1070.2 1993.7,1060.3 1989.8,1106.8 1985.8,1127.2 1981.8,1088.2 1977.9,1047.6 1973.9,972.4 1969.9,898.6 1965.9,883.0 1962.0,849.9 1958.0,842.7 1954.0,809.0 1950.0,781.5 1946.1,729.2 1942.1,724.3 1938.1,764.4 1934.1,731.3 1930.2,696.1 1926.2,646.3 1922.2,615.2 1918.3,566.7 1914.3,544.4 1910.3,574.1 1906.3,622.6 1902.4,658.5 1898.4,615.4 1894.4,564.5 1890.4,526.7 1886.5,506.7 1882.5,517.4 1878.5,545.1 1874.6,512.7 1870.6,515.0 1866.6,539.4 1862.6,539.6 1858.7,580.0 1854.7,555.7 1850.7,626.7 1846.7,625.5 1842.8,627.9 1838.8,658.6 1834.8,672.2 1830.8,696.7 1826.9,709.1 1822.9,725.2 1818.9,777.3 1815.0,743.0 1811.0,758.1 1807.0,759.3 1803.0,769.1 1799.1,742.9 1795.1,789.8 1791.1,805.6 1787.1,862.6 1783.2,892.8 1779.2,890.6 1775.2,922.1 1771.2,969.1 1767.3,974.8 1763.3,946.8 1759.3,999.4 1755.4,1056.2 1751.4,1124.1 1747.4,1149.9 1743.4,1181.2 1739.5,1229.2 1735.5,1271.1 1731.5,1277.3 1727.5,1333.2 1723.6,1472.4 1719.6,1477.3 1715.6,1526.1 1711.6,1569.5 1707.7,1598.8 1703.7,1585.8 1699.7,1621.0 1695.8,1592.1 1691.8,1600.1 1687.8,1597.3 1683.8,1508.5 1679.9,1464.4 1675.9,1457.5 1671.9,1428.4 1667.9,1384.9 1664.0,1389.6 1660.0,1368.4 1656.0,1351.3 1652.0,1340.0 1648.1,1319.1 1644.1,1412.9 1640.1,1430.5 1636.2,1437.0 1632.2,1489.8 1628.2,1589.1 1624.2,1651.2 1620.3,1730.7 1616.3,1808.7 1612.3,1820.3 1608.3,1836.0 1604.4,1836.7 1600.4,1845.2 1596.4,1862.2 1592.4,1828.6 1588.5,1815.0 1584.5,1824.1 1580.5,1804.5 1576.6,1818.5 1572.6,1783.0 1568.6,1837.0 1564.6,1833.1 1560.7,1843.8 1556.7,1811.4 1552.7,1845.3 1548.7,1892.3 1544.8,1895.4 1540.8,1907.8 1536.8,1917.3 1532.8,1896.5 1528.9,1913.1 1524.9,1904.3 1520.9,1875.6 1517.0,1854.4 1513.0,1751.9 1509.0,1684.4 1505.0,1717.9 1501.1,1690.0 1497.1,1609.0 1493.1,1546.9 1489.1,1506.2 1485.2,1524.9 1481.2,1537.4 1477.2,1542.3 1473.2,1540.0 1469.3,1569.8 1465.3,1634.7 1461.3,1669.3 1457.4,1685.8 1453.4,1721.6 1449.4,1744.1 1445.4,1795.4 1441.5,1820.4 1437.5,1925.7 1433.5,1943.4 1429.5,1935.1 1425.6,1895.1 1421.6,1988.8 1417.6,2016.9 1413.6,1974.7 1409.7,1980.8 1405.7,1948.3 1401.7,1889.0 1397.8,1853.7 1393.8,1781.0 1389.8,1740.1 1385.8,1696.7 1381.9,1685.8 1377.9,1702.2 1373.9,1706.3 1369.9,1709.5 1366.0,1716.7 1362.0,1659.3 1358.0,1600.2 1354.0,1578.4 1350.1,1563.4 1346.1,1602.6 1342.1,1620.6 1338.2,1669.9 1334.2,1728.4 1330.2,1754.8 1326.2,1776.2 1322.3,1834.7 1318.3,1907.5 1314.3,1904.7 1310.3,1906.1 1306.4,1946.6 1302.4,1999.3 1298.4,2084.6 1294.4,2132.6 1290.5,2155.9 1286.5,2138.1 1282.5,2133.9 1278.6,2109.3 1274.6,2069.2 1270.6,2009.5 1266.6,1929.3 1262.7,1856.3 1258.7,1878.8 1254.7,1855.2 1250.7,1840.1 1246.8,1727.4 1242.8,1706.6 1238.8,1624.4 1234.8,1623.3 1230.9,1617.9 1226.9,1552.8 1222.9,1600.0 1219.0,1635.3 1215.0,1598.4 1211.0,1581.3 1207.0,1537.7 1203.1,1573.5 1199.1,1639.0 1195.1,1654.3 1191.1,1564.7 1187.2,1473.8 1183.2,1421.3 1179.2,1412.5 1175.2,1387.1 1171.3,1430.3 1167.3,1480.4 1163.3,1474.4 1159.4,1475.3 1155.4,1523.8 1151.4,1568.2 1147.4,1577.0 1143.5,1540.2 1139.5,1577.5 1135.5,1622.2 1131.5,1656.6 1127.6,1657.5 1123.6,1701.8 1119.6,1737.8 1115.6,1702.4 1111.7,1727.6 1107.7,1696.2 1103.7,1696.5 1099.8,1691.3 1095.8,1647.0 1091.8,1700.4 1087.8,1693.6 1083.9,1677.8 1079.9,1659.2 1075.9,1638.4 1071.9,1582.2 1068.0,1563.9 1064.0,1628.4 1060.0,1639.4 1056.0,1624.8 1052.1,1630.5 1048.1,1665.3 1044.1,1718.9 1040.2,1731.6 1036.2,1739.9 1032.2,1788.6 1028.2,1805.1 1024.3,1765.4 1020.3,1748.9 1016.3,1681.4 1012.3,1677.5 1008.4,1633.1 1004.4,1566.8 1000.4,1559.2 996.4,1570.3 992.5,1583.3 988.5,1609.3 984.5,1665.4 980.6,1727.7 976.6,1728.7 972.6,1714.9 968.6,1665.7 964.7,1644.3 960.7,1619.6 956.7,1615.4 952.7,1658.7 948.8,1713.6 944.8,1740.9 940.8,1766.3 936.9,1710.1 932.9,1659.3 928.9,1580.0 924.9,1556.2 921.0,1553.0 917.0,1590.7 913.0,1666.1 909.0,1677.9 905.1,1648.1 901.1,1669.6 897.1,1722.1 893.1,1701.8 889.2,1740.9 885.2,1686.2 881.2,1649.8 877.3,1627.8 873.3,1686.3 869.3,1690.0 865.3,1669.2 861.4,1739.9 857.4,1803.6 853.4,1855.0 849.4,1888.3 845.5,1827.7 841.5,1733.0 837.5,1613.2 833.5,1615.9 829.6,1654.5 825.6,1650.6 821.6,1655.8 817.7,1614.7 813.7,1575.0 809.7,1516.3 805.7,1485.5 801.8,1462.9 797.8,1442.5 793.8,1427.5 789.8,1483.3 785.9,1516.2 781.9,1542.4 777.9,1623.7 773.9,1668.3 770.0,1711.7 766.0,1726.1 762.0,1746.3 758.1,1719.1 754.1,1682.3 750.1,1721.9 746.1,1862.6 742.2,1887.6 738.2,1946.7 734.2,1922.9 730.2,1884.3 726.3,1874.4 722.3,1862.3 718.3,1837.5 714.3,1794.3 710.4,1832.0 706.4,1863.1 702.4,1918.6 698.5,1894.6 694.5,1843.1 690.5,1757.9 686.5,1765.6 682.6,1782.9 678.6,1810.9 674.6,1793.5 670.6,1751.0 666.7,1761.5 662.7,1731.1 658.7,1706.6 654.7,1710.0 650.8,1693.9 646.8,1643.4 642.8,1645.2 638.9,1641.4 634.9,1648.3 630.9,1673.1 626.9,1687.3 623.0,1718.4 619.0,1778.6 615.0,1706.9 611.0,1647.1 607.1,1639.5 603.1,1629.6 599.1,1621.1 595.1,1530.5 591.2,1563.9 587.2,1556.3 583.2,1604.6 579.3,1601.5 575.3,1505.3 571.3,1528.2 567.3,1508.0 563.4,1495.7 559.4,1520.4 555.4,1493.5 551.4,1502.5 547.5,1516.7 543.5,1465.5 539.5,1476.2 535.5,1458.0 531.6,1496.0 527.6,1497.4 523.6,1535.9 519.7,1601.1 515.7,1656.1 511.7,1665.0 507.7,1627.5 503.8,1636.6 499.8,1640.2 495.8,1616.9 491.8,1666.8 487.9,1669.9 483.9,1679.9 479.9,1757.0 475.9,1787.3 472.0,1920.2 468.0,2297.0" fill="#2a2eec" fill-opacity="0.2" stroke="#2a2eec" stroke-opacity="0.2" stroke-width="5.5"/>
<polygon points="468.0,2222.0 472.0,1844.1 475.9,1713.9 479.9,1679.1 483.9,1606.7 487.9,1591.6 491.8,1591.2 495.8,1545.7 499.8,1567.9 503.8,1558.1 507.7,1547.6 511.7,1586.6 515.7,1583.4 519.7,1515.3 523.6,1453.8 527.6,1419.8 531.6,1415.4 535.5,1376.3 539.5,1397.1 543.5,1384.1 547.5,1433.4 551.4,1419.9 555.4,1406.6 559.4,1432.5 563.4,1418.6 567.3,1410.8 571.3,1443.5 575.3,1422.1 579.3,1523.5 583.2,1536.3 587.2,1482.6 591.2,1485.1 595.1,1450.8 599.1,1537.7 603.1,1545.7 607.1,1556.3 611.0,1559.2 615.0,1624.0 619.0,1698.6 623.0,1640.6 626.9,1612.6 630.9,1582.3 634.9,1573.6 638.9,1568.2 642.8,1568.8 646.8,1576.6 650.8,1615.4 654.7,1635.6 658.7,1626.2 662.7,1652.0 666.7,1692.4 670.6,1673.5 674.6,1716.7 678.6,1729.1 682.6,1701.8 686.5,1700.0 690.5,1676.2 694.5,1759.5 698.5,1811.8 702.4,1835.9 706.4,1787.2 710.4,1753.5 714.3,1719.8 718.3,1746.1 722.3,1777.7 726.3,1805.4 730.2,1811.1 734.2,1835.7 738.2,1872.1 742.2,1827.3 746.1,1784.2 750.1,1646.9 754.1,1604.6 758.1,1637.8 762.0,1675.7 766.0,1658.9 770.0,1631.1 773.9,1593.5 777.9,1546.3 781.9,1463.2 785.9,1435.7 789.8,1405.3 793.8,1360.9 797.8,1366.3 801.8,1388.1 805.7,1405.4 809.7,1429.6 813.7,1487.6 817.7,1533.9 821.6,1591.3 825.6,1581.9 829.6,1576.9 833.5,1541.2 837.5,1540.1 841.5,1648.4 845.5,1746.3 849.4,1798.1 853.4,1767.0 857.4,1731.0 861.4,1664.0 865.3,1589.1 869.3,1611.6 873.3,1614.5 877.3,1560.3 881.2,1575.6 885.2,1613.0 889.2,1670.5 893.1,1625.8 897.1,1634.9 901.1,1588.0 905.1,1572.4 909.0,1600.6 913.0,1586.5 917.0,1512.5 921.0,1473.9 924.9,1490.1 928.9,1512.3 932.9,1587.0 936.9,1634.1 940.8,1697.8 944.8,1678.9 948.8,1643.2 952.7,1599.1 956.7,1552.6 960.7,1542.6 964.7,1564.4 968.6,1585.5 972.6,1636.5 976.6,1643.1 980.6,1643.4 984.5,1588.0 988.5,1518.0 992.5,1488.1 996.4,1482.2 1000.4,1482.1 1004.4,1491.6 1008.4,1566.6 1012.3,1605.1 1016.3,1624.7 1020.3,1679.1 1024.3,1686.3 1028.2,1724.2 1032.2,1699.5 1036.2,1658.8 1040.2,1647.6 1044.1,1641.6 1048.1,1585.7 1052.1,1552.4 1056.0,1539.9 1060.0,1552.8 1064.0,1544.4 1068.0,1489.6 1071.9,1503.8 1075.9,1557.3 1079.9,1573.4 1083.9,1592.2 1087.8,1605.6 1091.8,1609.3 1095.8,1575.0 1099.8,1605.6 1103.7,1607.2 1107.7,1612.5 1111.7,1653.5 1115.6,1624.2 1119.6,1657.2 1123.6,1630.1 1127.6,1571.9 1131.5,1574.7 1135.5,1531.5 1139.5,1485.7 1143.5,1453.8 1147.4,1495.8 1151.4,1487.3 1155.4,1437.9 1159.4,1394.7 1163.3,1404.7 1167.3,1417.6 1171.3,1356.7 1175.2,1322.7 1179.2,1343.6 1183.2,1344.2 1187.2,1401.6 1191.1,1499.2 1195.1,1575.5 1199.1,1562.8 1203.1,1492.0 1207.0,1466.2 1211.0,1510.3 1215.0,1524.9 1219.0,1546.1 1222.9,1513.2 1226.9,1482.7 1230.9,1538.0 1234.8,1543.4 1238.8,1541.5 1242.8,1636.5 1246.8,1653.2 1250.7,1748.0 1254.7,1772.0 1258.7,1796.5 1262.7,1781.5 1266.6,1860.3 1270.6,1934.3 1274.6,1986.4 1278.6,2020.2 1282.5,2053.1 1286.5,2059.9 1290.5,2083.9 1294.4,2065.9 1298.4,2008.2 1302.4,1917.6 1306.4,1855.4 1310.3,1821.1 1314.3,1812.9 1318.3,1819.9 1322.3,1765.2 1326.2,1702.6 1330.2,1678.2 1334.2,1650.3 1338.2,1577.2 1342.1,1545.6 1346.1,1530.7 1350.1,1481.4 1354.0,1497.8 1358.0,1536.1 1362.0,1591.3 1366.0,1645.5 1369.9,1637.9 1373.9,1631.9 1377.9,1620.8 1381.9,1610.2 1385.8,1617.3 1389.8,1662.9 1393.8,1696.2 1397.8,1764.7 1401.7,1809.4 1405.7,1873.3 1409.7,1897.1 1413.6,1889.2 1417.6,1938.9 1421.6,1921.8 1425.6,1819.8 1429.5,1855.1 1433.5,1867.6 1437.5,1850.0 1441.5,1744.3 1445.4,1713.6 1449.4,1650.3 1453.4,1654.9 1457.4,1616.8 1461.3,1596.8 1465.3,1561.4 1469.3,1501.7 1473.2,1462.0 1477.2,1467.7 1481.2,1459.9 1485.2,1440.6 1489.1,1423.8 1493.1,1466.5 1497.1,1524.4 1501.1,1607.2 1505.0,1637.1 1509.0,1603.8 1513.0,1678.5 1517.0,1772.4 1520.9,1799.9 1524.9,1829.0 1528.9,1851.1 1532.8,1820.6 1536.8,1834.0 1540.8,1826.9 1544.8,1807.9 1548.7,1811.7 1552.7,1758.8 1556.7,1739.5 1560.7,1765.2 1564.6,1748.3 1568.6,1760.9 1572.6,1701.4 1576.6,1735.7 1580.5,1719.5 1584.5,1734.1 1588.5,1735.9 1592.4,1745.1 1596.4,1791.2 1600.4,1769.9 1604.4,1764.3 1608.3,1761.0 1612.3,1745.3 1616.3,1733.1 1620.3,1652.5 1624.2,1558.9 1628.2,1505.2 1632.2,1414.4 1636.2,1352.3 1640.1,1345.6 1644.1,1336.6 1648.1,1249.3 1652.0,1273.4 1656.0,1280.4 1660.0,1292.9 1664.0,1311.7 1667.9,1305.9 1671.9,1344.5 1675.9,1380.6 1679.9,1382.0 1683.8,1419.1 1687.8,1512.5 1691.8,1514.4 1695.8,1512.8 1699.7,1539.2 1703.7,1509.0 1707.7,1519.6 1711.6,1498.8 1715.6,1451.8 1719.6,1403.8 1723.6,1391.1 1727.5,1266.4 1731.5,1214.5 1735.5,1187.6 1739.5,1147.4 1743.4,1097.7 1747.4,1077.4 1751.4,1041.2 1755.4,970.6 1759.3,911.9 1763.3,873.9 1767.3,894.1 1771.2,880.0 1775.2,845.9 1779.2,815.3 1783.2,817.4 1787.1,778.8 1791.1,727.1 1795.1,715.2 1799.1,672.2 1803.0,704.3 1807.0,678.3 1811.0,668.8 1815.0,656.8 1818.9,686.0 1822.9,642.5 1826.9,633.4 1830.8,615.4 1834.8,594.2 1838.8,571.5 1842.8,554.2 1846.7,548.3 1850.7,550.9 1854.7,482.9 1858.7,501.9 1862.6,473.1 1866.6,457.9 1870.6,433.1 1874.6,432.2 1878.5,456.6 1882.5,418.4 1886.5,421.7 1890.4,436.3 1894.4,477.2 1898.4,528.7 1902.4,578.6 1906.3,547.3 1910.3,494.7 1914.3,468.7 1918.3,483.4 1922.2,530.0 1926.2,563.8 1930.2,608.3 1934.1,647.7 1938.1,682.0 1942.1,639.9 1946.1,654.0 1950.0,702.7 1954.0,740.5 1958.0,759.4 1962.0,770.9 1965.9,805.5 1969.9,807.1 1973.9,876.2 1977.9,965.1 1981.8,1012.9 1985.8,1045.9 1989.8,1024.9 1993.7,981.4 1997.7,1005.5 2001.7,1055.9 2005.7,1090.6 2009.6,1146.7 2013.6,1158.6 2017.6,1243.6 2021.6,1318.1 2025.5,1303.0 2029.5,1304.4 2033.5,1287.9 2037.5,1367.6 2041.4,1388.9 2045.4,1406.5 2049.4,1417.2 2053.3,1416.1 2057.3,1454.2 2061.3,1509.2 2065.3,1477.9 2069.2,1458.1 2073.2,1380.4 2077.2,1276.7 2081.2,1308.4 2085.1,1279.9 2089.1,1343.4 2093.1,1336.6 2097.1,1347.3 2101.0,1397.6 2105.0,1382.6 2109.0,1364.5 2112.9,1387.8 2116.9,1420.4 2120.9,1364.1 2124.9,1312.1 2128.8,1351.2 2132.8,1339.3 2136.8,1401.4 2140.8,1412.2 2144.7,1457.1 2148.7,1491.2 2152.7,1562.7 2156.7,1643.7 2160.6,1657.6 2164.6,1720.1 2168.6,1767.2 2172.5,1782.9 2176.5,1834.6 2180.5,1913.5 2184.5,1890.3 2188.4,1805.2 2192.4,1833.7 2196.4,1889.7 2200.4,1910.6 2204.3,1862.4 2208.3,1807.8 2212.3,1754.1 2216.3,1750.8 2220.2,1775.1 2224.2,1839.5 2228.2,1862.5 2232.1,1917.3 2236.1,1938.2 2240.1,1974.2 2244.1,2011.8 2248.0,1972.6 2252.0,1794.9 2256.0,1738.0 2260.0,1698.7 2263.9,1620.0 2267.9,1547.0 2271.9,1521.3 2275.9,1553.1 2279.8,1583.2 2283.8,1469.3 2287.8,1445.9 2291.7,1476.6 2295.7,1491.0 2299.7,1533.0 2303.7,1613.2 2307.6,1656.6 2311.6,1695.3 2315.6,1738.7 2319.6,1752.8 2323.5,1765.7 2327.5,1779.0 2331.5,1753.8 2335.5,1772.7 2339.4,1786.1 2343.4,1813.3 2347.4,1901.8 2351.3,1905.6 2355.3,1933.4 2359.3,1925.5 2363.3,1843.9 2367.2,1890.4 2371.2,1888.7 2375.2,1906.1 2379.2,1894.0 2383.1,1844.1 2387.1,1830.0 2391.1,1803.5 2395.1,1754.3 2399.0,1731.2 2403.0,1748.7 2407.0,1727.4 2410.9,1669.0 2414.9,1637.4 2418.9,1664.7 2422.9,1653.4 2426.8,1624.2 2430.8,1582.2 2434.8,1630.7 2438.8,1705.8 2442.7,1704.5 2446.7,1709.9 2450.7,1759.6 2454.7,1782.0 2458.6,1706.9 2462.6,1689.0 2466.6,1641.1 2470.5,1628.9 2474.5,1656.2 2478.5,1678.1 2482.5,1774.0 2486.4,1816.4 2490.4,1781.2 2494.4,1712.0 2498.4,1624.3 2502.3,1592.3 2506.3,1568.4 2510.3,1631.1 2514.3,1643.7 2518.2,1726.1 2522.2,1783.7 2526.2,1829.2 2530.1,1875.3 2534.1,1883.7 2538.1,1961.7 2542.1,2022.7 2546.0,2063.4 2550.0,2167.5 2554.0,2224.8 2558.0,2201.8 2561.9,2119.9 2565.9,2102.6 2569.9,2202.2 2573.9,2316.0 2577.8,2358.1 2581.8,2355.4 2585.8,2381.8 2589.7,2353.3 2593.7,2215.1 2597.7,2168.8 2601.7,2104.2 2605.6,2057.8 2609.6,2073.9 2613.6,2138.7 2617.6,2181.8 2621.5,2151.5 2625.5,1986.6 2629.5,1858.7 2633.5,1803.4 2637.4,1707.8 2641.4,1656.8 2645.4,1654.3 2649.3,1642.5 2653.3,1638.1 2657.3,1612.4 2661.3,1624.7 2665.2,1553.2 2669.2,1494.1 2673.2,1536.5 2677.2,1575.0 2681.1,1553.5 2685.1,1584.4 2689.1,1649.8 2693.1,1734.4 2697.0,1812.8 2701.0,1865.2 2705.0,1862.9 2708.9,1940.0 2712.9,1945.1 2716.9,2031.5 2720.9,2062.2 2724.8,2062.9 2728.8,2012.0 2732.8,1929.4 2736.8,1895.0 2740.7,1879.6 2744.7,1902.6 2748.7,1881.9 2752.7,1873.8 2756.6,1841.1 2760.6,1820.0 2764.6,1792.2 2768.5,1768.5 2772.5,1748.6 2776.5,1728.8 2780.5,1787.0 2784.4,1835.8 2788.4,1892.6 2792.4,1886.7 2796.4,1870.5 2800.3,1866.1 2804.3,1784.5 2808.3,1725.1 2812.3,1702.8 2816.2,1727.3 2820.2,1747.1 2824.2,1795.8 2828.1,1799.5 2832.1,1796.7 2836.1,1819.5 2840.1,1812.9 2844.0,1815.8 2848.0,1759.9 2852.0,1715.2 2856.0,1686.1 2859.9,1703.0 2863.9,1724.9 2867.9,1815.7 2871.9,1861.5 2875.8,1949.5 2879.8,1948.3 2883.8,1885.6 2887.7,1908.1 2891.7,1869.0 2895.7,1774.3 2899.7,1696.1 2903.6,1691.7 2907.6,1657.0 2911.6,1640.1 2915.6,1546.0 2919.5,1534.2 2923.5,1568.8 2927.5,1536.0 2931.4,1510.3 2935.4,1511.4 2939.4,1486.8 2943.4,1437.4 2947.3,1451.5 2951.3,1413.7 2955.3,1411.4 2959.3,1509.9 2963.2,1584.9 2967.2,1689.6 2971.2,1661.5 2975.2,1619.7 2979.1,1585.6 2983.1,1569.5 2987.1,1597.0 2991.0,1605.7 2995.0,1656.0 2999.0,1628.1 3003.0,1639.9 3006.9,1674.0 3010.9,1625.1 3014.9,1553.1 3018.9,1466.7 3022.8,1470.3 3026.8,1479.3 3030.8,1464.6 3034.8,1469.7 3038.7,1487.5 3042.7,1512.6 3046.7,1492.9 3050.6,1484.6 3054.6,1567.0 3058.6,1577.1 3062.6,1628.9 3066.5,1677.8 3070.5,1667.0 3074.5,1730.1 3078.5,1747.4 3082.4,1823.5 3086.4,1766.0 3090.4,1744.7 3094.4,1763.2 3098.3,1798.0 3102.3,1749.8 3106.3,1641.6 3110.2,1458.3 3114.2,1409.9 3118.2,1392.5 3122.2,1351.8 3126.1,1331.3 3130.1,1312.6 3134.1,1275.5 3138.1,1252.6 3142.0,1202.1 3146.0,1159.8 3150.0,1088.3 3154.0,1112.7 3157.9,1103.5 3161.9,1131.6 3165.9,1140.2 3169.8,1092.3 3173.8,1017.2 3177.8,1036.3 3181.8,1013.9 3185.7,972.9 3189.7,934.2 3193.7,929.0 3197.7,934.8 3201.6,994.1 3205.6,1010.3 3209.6,970.7 3213.6,936.3 3217.5,971.3 3221.5,936.2 3225.5,926.5 3229.4,906.5 3233.4,895.5 3237.4,843.7 3241.4,833.2 3245.3,791.6 3249.3,769.6 3253.3,747.7 3257.3,696.7 3261.2,619.1 3265.2,648.0 3269.2,612.8 3273.2,571.0 3277.1,550.2 3281.1,505.7 3285.1,532.0 3289.0,431.7 3293.0,385.9 3297.0,417.9 3301.0,472.1 3304.9,460.0 3308.9,435.1 3312.9,380.8 3316.9,341.4 3320.8,360.1 3324.8,390.9 3328.8,376.9 3332.8,390.2 3336.7,372.6 3340.7,366.6 3344.7,357.3 3348.6,356.3 3352.6,366.4 3356.6,345.8 3360.6,288.7 3364.5,323.2 3368.5,352.5 3372.5,299.4 3376.5,359.2 3380.4,358.0 3384.4,389.5 3388.4,425.5 3392.4,437.1 3396.3,486.6 3400.3,558.3 3404.3,572.2 3408.2,585.0 3412.2,576.6 3416.2,659.2 3420.2,650.1 3424.1,632.9 3428.1,668.0 3432.1,730.2 3436.1,816.8 3440.0,804.2 3444.0,771.8 3448.0,838.6 3452.0,855.6 3455.9,863.5 3459.9,887.7 3463.9,893.5 3467.8,938.4 3471.8,927.1 3475.8,916.1 3479.8,864.4 3483.7,928.7 3487.7,973.8 3491.7,1024.9 3495.7,1032.3 3499.6,1055.4 3503.6,1095.5 3507.6,1128.5 3511.6,1187.4 3515.5,1250.0 3519.5,1288.9 3523.5,1279.0 3527.4,1287.2 3531.4,1285.4 3535.4,1305.3 3539.4,1277.5 3543.3,1233.7 3547.3,1230.9 3551.3,1227.9 3555.3,1248.3 3559.2,1285.8 3563.2,1329.0 3567.2,1403.2 3571.2,1438.8 3575.1,1453.4 3579.1,1455.5 3583.1,1415.4 3587.0,1369.5 3591.0,1351.4 3595.0,1337.6 3599.0,1355.0 3602.9,1401.1 3606.9,1438.7 3610.9,1482.1 3614.9,1506.7 3618.8,1530.0 3622.8,1487.3 3626.8,1454.3 3630.8,1457.0 3634.7,1450.2 3638.7,1486.7 3642.7,1544.2 3646.6,1561.2 3650.6,1580.0 3654.6,1615.4 3658.6,1676.3 3662.5,1694.6 3666.5,1741.5 3670.5,1736.4 3674.5,1712.7 3678.4,1643.5 3682.4,1624.4 3686.4,1579.6 3690.4,1602.0 3694.3,1627.3 3698.3,1635.6 3702.3,1602.6 3706.2,1487.3 3710.2,1460.7 3714.2,1463.3 3718.2,1442.9 3722.1,1382.3 3726.1,1355.8 3730.1,1312.2 3734.1,1307.7 3738.0,1193.3 3742.0,1155.7 3746.0,1133.9 3750.0,1156.8 3753.9,1173.2 3757.9,1197.3 3761.9,1221.9 3765.8,1201.8 3769.8,1142.8 3773.8,1128.7 3777.8,1137.0 3781.7,1155.1 3785.7,1202.7 3789.7,1287.4 3793.7,1344.5 3797.6,1411.1 3801.6,1439.9 3805.6,1395.8 3809.6,1422.1 3813.5,1503.1 3817.5,1511.3 3821.5,1575.6 3825.4,1656.8 3829.4,1757.1 3833.4,1695.2 3837.4,1663.2 3841.3,1635.3 3845.3,1574.0 3849.3,1493.9 3853.3,1400.6 3857.2,1302.6 3861.2,1275.3 3865.2,1224.1 3869.1,1179.6 3873.1,1190.8 3877.1,1192.8 3881.1,1207.5 3885.0,1198.4 3889.0,1176.9 3893.0,1171.5 3897.0,1176.5 3900.9,1233.9 3904.9,1326.2 3908.9,1340.5 3912.9,1412.2 3916.8,1471.3 3920.8,1514.4 3924.8,1522.3 3928.7,1516.1 3932.7,1510.9 3936.7,1565.5 3940.7,1614.6 3944.6,1572.1 3948.6,1505.0 3952.6,1445.9 3956.6,1400.5 3960.5,1321.2 3964.5,1252.0 3968.5,1253.0 3972.5,1226.9 3976.4,1183.8 3980.4,1158.4 3984.4,1118.4 3988.3,1046.4 3992.3,1032.1 3996.3,1030.6 4000.3,1042.8 4004.2,1048.0 4008.2,1060.5 4012.2,1107.2 4016.2,1128.5 4020.1,1126.6 4024.1,1129.1 4028.1,1201.1 4032.1,1208.9 4036.0,1167.9 4040.0,1215.9 4044.0,1123.9 4047.9,1100.4 4051.9,1115.7 4055.9,1152.2 4059.9,1190.7 4063.8,1228.9 4067.8,1233.1 4071.8,1200.2 4075.8,1193.7 4079.7,1286.6 4083.7,1342.1 4087.7,1343.0 4091.7,1432.2 4095.6,1542.5 4099.6,1617.0 4103.6,1672.2 4107.5,1690.4 4111.5,1658.9 4115.5,1619.3 4119.5,1521.4 4123.4,1515.1 4127.4,1564.0 4131.4,1523.7 4135.4,1380.6 4139.3,1219.7 4143.3,1099.2 4147.3,1044.7 4151.3,1044.3 4155.2,1028.1 4159.2,1056.3 4163.2,1078.6 4167.1,1080.7 4171.1,1093.4 4175.1,1112.0 4179.1,1166.5 4183.0,1209.7 4187.0,1191.8 4191.0,1190.7 4195.0,1239.5 4198.9,1322.2 4202.9,1380.1 4206.9,1373.7 4210.9,1338.3 4214.8,1290.0 4218.8,1304.8 4222.8,1286.6 4226.7,1241.3 4230.7,1210.5 4234.7,1187.1 4238.7,1214.3 4242.6,1240.4 4246.6,1225.1 4250.6,1219.5 4254.6,1208.7 4258.5,1133.1 4262.5,1104.2 4266.5,1144.3 4270.5,1162.0 4274.4,1180.3 4278.4,1182.3 4282.4,1223.7 4286.3,1241.9 4290.3,1220.6 4294.3,1192.0 4298.3,1210.5 4302.2,1242.3 4306.2,1272.1 4310.2,1265.4 4314.2,1275.9 4318.1,1278.0 4322.1,1229.9 4326.1,1219.0 4330.1,1194.7 4334.0,1164.7 4338.0,1173.7 4342.0,1186.1 4345.9,1188.9 4349.9,1214.9 4353.9,1299.6 4357.9,1334.0 4361.8,1352.0 4365.8,1329.3 4369.8,1289.5 4373.8,1253.3 4377.7,1241.1 4381.7,1294.6 4385.7,1273.5 4389.7,1272.1 4393.6,1292.5 4397.6,1253.1 4401.6,1221.3 4405.5,1174.1 4409.5,1229.7 4413.5,1232.4 4417.5,1163.2 4421.4,1165.0 4425.4,1183.7 4429.4,1190.1 4433.4,1210.9 4437.3,1222.1 4441.3,1243.7 4445.3,1212.5 4449.3,1227.7 4453.2,1244.1 4457.2,1276.6 4461.2,1252.7 4465.1,1171.3 4469.1,1145.7 4473.1,1175.4 4477.1,1185.2 4481.0,1194.5 4485.0,1236.9 4489.0,1237.2 4493.0,1191.5 4496.9,1209.0 4500.9,1243.0 4504.9,1249.6 4508.9,1193.7 4512.8,1220.2 4516.8,1242.5 4520.8,1261.2 4524.7,1240.1 4528.7,1217.2 4532.7,1196.4 4536.7,1181.7 4540.6,1135.7 4544.6,1102.8 4548.6,1151.0 4552.6,1214.4 4556.5,1243.3 4560.5,1239.0 4564.5,1242.2 4568.5,1225.5 4572.4,1208.5 4576.4,1250.9 4580.4,1274.6 4584.3,1274.5 4588.3,1209.9 4592.3,1242.2 4596.3,1230.6 4600.2,1221.2 4600.2,1260.9 4596.3,1274.7 4592.3,1284.2 4588.3,1250.3 4584.3,1316.6 4580.4,1316.0 4576.4,1290.5 4572.4,1244.1 4568.5,1268.1 4564.5,1277.7 4560.5,1287.8 4556.5,1284.1 4552.6,1256.9 4548.6,1194.3 4544.6,1139.5 4540.6,1172.4 4536.7,1217.5 4532.7,1234.7 4528.7,1253.2 4524.7,1277.4 4520.8,1302.8 4516.8,1278.2 4512.8,1265.6 4508.9,1235.9 4504.9,1294.9 4500.9,1279.8 4496.9,1250.8 4493.0,1234.8 4489.0,1276.1 4485.0,1271.6 4481.0,1232.9 4477.1,1223.1 4473.1,1215.2 4469.1,1187.4 4465.1,1214.6 4461.2,1290.5 4457.2,1310.9 4453.2,1280.4 4449.3,1258.3 4445.3,1251.6 4441.3,1279.4 4437.3,1265.9 4433.4,1253.7 4429.4,1239.6 4425.4,1229.6 4421.4,1210.1 4417.5,1208.6 4413.5,1280.4 4409.5,1276.7 4405.5,1212.7 4401.6,1267.9 4397.6,1288.6 4393.6,1332.2 4389.7,1313.5 4385.7,1315.2 4381.7,1336.9 4377.7,1279.7 4373.8,1282.7 4369.8,1329.5 4365.8,1362.7 4361.8,1398.1 4357.9,1378.4 4353.9,1353.0 4349.9,1259.8 4345.9,1236.5 4342.0,1230.0 4338.0,1214.7 4334.0,1201.5 4330.1,1235.9 4326.1,1260.2 4322.1,1264.7 4318.1,1319.5 4314.2,1318.5 4310.2,1307.8 4306.2,1314.9 4302.2,1279.5 4298.3,1244.1 4294.3,1234.6 4290.3,1259.1 4286.3,1281.4 4282.4,1271.4 4278.4,1217.7 4274.4,1214.9 4270.5,1195.3 4266.5,1191.2 4262.5,1147.7 4258.5,1179.9 4254.6,1246.5 4250.6,1266.8 4246.6,1268.7 4242.6,1277.2 4238.7,1258.5 4234.7,1227.4 4230.7,1253.6 4226.7,1277.3 4222.8,1324.9 4218.8,1347.1 4214.8,1321.8 4210.9,1374.9 4206.9,1410.2 4202.9,1421.2 4198.9,1365.3 4195.0,1275.1 4191.0,1222.6 4187.0,1229.4 4183.0,1253.4 4179.1,1207.2 4175.1,1150.7 4171.1,1134.8 4167.1,1122.0 4163.2,1118.5 4159.2,1099.0 4155.2,1069.3 4151.3,1086.1 4147.3,1086.5 4143.3,1139.8 4139.3,1266.7 4135.4,1420.7 4131.4,1557.5 4127.4,1596.9 4123.4,1558.8 4119.5,1568.8 4115.5,1659.0 4111.5,1694.4 4107.5,1726.3 4103.6,1719.0 4099.6,1666.1 4095.6,1586.7 4091.7,1468.7 4087.7,1391.4 4083.7,1388.7 4079.7,1330.2 4075.8,1234.7 4071.8,1241.8 4067.8,1270.5 4063.8,1267.4 4059.9,1230.1 4055.9,1191.7 4051.9,1156.2 4047.9,1144.8 4044.0,1168.1 4040.0,1262.4 4036.0,1213.1 4032.1,1252.9 4028.1,1249.7 4024.1,1172.1 4020.1,1170.3 4016.2,1173.0 4012.2,1144.9 4008.2,1108.2 4004.2,1093.2 4000.3,1093.2 3996.3,1075.5 3992.3,1066.9 3988.3,1086.7 3984.4,1166.8 3980.4,1207.0 3976.4,1228.0 3972.5,1268.4 3968.5,1296.3 3964.5,1291.1 3960.5,1359.9 3956.6,1443.7 3952.6,1486.4 3948.6,1542.5 3944.6,1612.0 3940.7,1660.4 3936.7,1607.6 3932.7,1553.3 3928.7,1559.2 3924.8,1569.3 3920.8,1557.2 3916.8,1513.3 3912.9,1458.7 3908.9,1391.7 3904.9,1374.7 3900.9,1271.0 3897.0,1219.9 3893.0,1215.7 3889.0,1221.3 3885.0,1242.2 3881.1,1251.3 3877.1,1231.0 3873.1,1226.5 3869.1,1223.1 3865.2,1260.1 3861.2,1316.1 3857.2,1346.5 3853.3,1444.7 3849.3,1541.1 3845.3,1617.4 3841.3,1676.4 3837.4,1709.2 3833.4,1734.2 3829.4,1798.1 3825.4,1695.0 3821.5,1622.7 3817.5,1560.1 3813.5,1550.6 3809.6,1472.3 3805.6,1441.2 3801.6,1495.2 3797.6,1463.2 3793.7,1389.0 3789.7,1331.1 3785.7,1248.2 3781.7,1199.7 3777.8,1180.3 3773.8,1166.2 3769.8,1177.6 3765.8,1242.6 3761.9,1270.4 3757.9,1243.2 3753.9,1213.6 3750.0,1203.4 3746.0,1179.9 3742.0,1200.9 3738.0,1237.6 3734.1,1352.6 3730.1,1360.1 3726.1,1399.5 3722.1,1421.2 3718.2,1487.2 3714.2,1511.5 3710.2,1509.3 3706.2,1533.6 3702.3,1653.5 3698.3,1679.1 3694.3,1670.5 3690.4,1646.3 3686.4,1624.8 3682.4,1665.9 3678.4,1685.5 3674.5,1747.6 3670.5,1777.4 3666.5,1772.2 3662.5,1734.9 3658.6,1722.7 3654.6,1656.9 3650.6,1623.0 3646.6,1604.1 3642.7,1587.9 3638.7,1520.4 3634.7,1487.7 3630.8,1495.0 3626.8,1492.3 3622.8,1521.2 3618.8,1568.5 3614.9,1545.1 3610.9,1525.6 3606.9,1481.0 3602.9,1443.7 3599.0,1400.7 3595.0,1374.3 3591.0,1393.9 3587.0,1409.1 3583.1,1456.4 3579.1,1502.5 3575.1,1497.0 3571.2,1478.2 3567.2,1447.4 3563.2,1362.8 3559.2,1322.4 3555.3,1296.0 3551.3,1267.8 3547.3,1269.3 3543.3,1273.6 3539.4,1308.9 3535.4,1342.1 3531.4,1327.2 3527.4,1331.0 3523.5,1322.9 3519.5,1338.4 3515.5,1293.4 3511.6,1228.1 3507.6,1171.7 3503.6,1147.3 3499.6,1101.4 3495.7,1080.3 3491.7,1065.4 3487.7,1011.5 3483.7,972.7 3479.8,911.5 3475.8,956.4 3471.8,969.8 3467.8,978.6 3463.9,939.9 3459.9,934.6 3455.9,906.6 3452.0,898.1 3448.0,874.3 3444.0,816.1 3440.0,847.0 3436.1,861.0 3432.1,774.1 3428.1,711.2 3424.1,672.4 3420.2,691.5 3416.2,707.4 3412.2,616.5 3408.2,627.0 3404.3,621.5 3400.3,603.4 3396.3,523.2 3392.4,481.1 3388.4,471.3 3384.4,436.1 3380.4,400.1 3376.5,401.1 3372.5,333.0 3368.5,395.6 3364.5,362.0 3360.6,332.7 3356.6,388.7 3352.6,419.4 3348.6,395.8 3344.7,402.2 3340.7,411.9 3336.7,410.2 3332.8,436.1 3328.8,418.9 3324.8,436.3 3320.8,395.7 3316.9,388.8 3312.9,424.0 3308.9,479.9 3304.9,506.6 3301.0,515.4 3297.0,459.4 3293.0,426.9 3289.0,474.8 3285.1,570.4 3281.1,548.2 3277.1,592.2 3273.2,614.2 3269.2,655.1 3265.2,691.4 3261.2,658.8 3257.3,729.6 3253.3,783.0 3249.3,806.4 3245.3,828.0 3241.4,870.1 3237.4,884.6 3233.4,937.4 3229.4,946.4 3225.5,962.6 3221.5,974.6 3217.5,1005.9 3213.6,978.0 3209.6,1015.9 3205.6,1045.9 3201.6,1031.9 3197.7,974.3 3193.7,969.9 3189.7,979.2 3185.7,1017.2 3181.8,1054.5 3177.8,1085.1 3173.8,1067.7 3169.8,1139.9 3165.9,1184.1 3161.9,1170.5 3157.9,1142.5 3154.0,1148.2 3150.0,1125.3 3146.0,1206.5 3142.0,1247.9 3138.1,1292.0 3134.1,1318.0 3130.1,1353.3 3126.1,1375.8 3122.2,1394.4 3118.2,1434.1 3114.2,1456.6 3110.2,1503.8 3106.3,1681.4 3102.3,1791.5 3098.3,1836.0 3094.4,1801.5 3090.4,1780.3 3086.4,1804.8 3082.4,1861.1 3078.5,1783.9 3074.5,1767.5 3070.5,1708.3 3066.5,1716.8 3062.6,1668.9 3058.6,1618.5 3054.6,1606.9 3050.6,1524.3 3046.7,1527.8 3042.7,1556.0 3038.7,1532.1 3034.8,1508.3 3030.8,1506.2 3026.8,1521.0 3022.8,1518.9 3018.9,1508.4 3014.9,1594.4 3010.9,1676.0 3006.9,1719.0 3003.0,1683.4 2999.0,1669.0 2995.0,1698.0 2991.0,1654.2 2987.1,1631.2 2983.1,1611.1 2979.1,1638.8 2975.2,1660.0 2971.2,1704.7 2967.2,1722.0 2963.2,1628.8 2959.3,1556.4 2955.3,1460.4 2951.3,1457.9 2947.3,1495.8 2943.4,1478.9 2939.4,1525.0 2935.4,1552.2 2931.4,1547.3 2927.5,1579.5 2923.5,1610.9 2919.5,1581.2 2915.6,1580.8 2911.6,1680.3 2907.6,1693.0 2903.6,1726.8 2899.7,1734.5 2895.7,1819.7 2891.7,1913.7 2887.7,1944.7 2883.8,1916.6 2879.8,1980.3 2875.8,1986.4 2871.9,1894.3 2867.9,1851.8 2863.9,1767.9 2859.9,1749.9 2856.0,1734.6 2852.0,1763.7 2848.0,1802.6 2844.0,1848.8 2840.1,1852.7 2836.1,1867.9 2832.1,1838.5 2828.1,1842.0 2824.2,1837.7 2820.2,1789.3 2816.2,1769.1 2812.3,1749.1 2808.3,1773.8 2804.3,1827.8 2800.3,1909.8 2796.4,1916.4 2792.4,1927.4 2788.4,1933.0 2784.4,1882.6 2780.5,1827.5 2776.5,1766.8 2772.5,1792.9 2768.5,1805.3 2764.6,1831.6 2760.6,1850.9 2756.6,1880.2 2752.7,1913.0 2748.7,1923.7 2744.7,1940.4 2740.7,1925.4 2736.8,1943.4 2732.8,1974.6 2728.8,2052.9 2724.8,2107.1 2720.9,2106.0 2716.9,2076.5 2712.9,1987.4 2708.9,1984.8 2705.0,1904.8 2701.0,1912.3 2697.0,1858.5 2693.1,1773.6 2689.1,1699.3 2685.1,1627.0 2681.1,1600.2 2677.2,1623.0 2673.2,1580.3 2669.2,1537.5 2665.2,1600.5 2661.3,1665.1 2657.3,1650.7 2653.3,1671.1 2649.3,1688.0 2645.4,1696.1 2641.4,1703.5 2637.4,1759.9 2633.5,1839.2 2629.5,1905.4 2625.5,2035.1 2621.5,2191.1 2617.6,2219.7 2613.6,2181.0 2609.6,2115.8 2605.6,2100.2 2601.7,2146.2 2597.7,2214.9 2593.7,2263.5 2589.7,2391.1 2585.8,2418.5 2581.8,2403.0 2577.8,2401.1 2573.9,2362.5 2569.9,2246.8 2565.9,2149.4 2561.9,2157.0 2558.0,2243.5 2554.0,2268.6 2550.0,2214.8 2546.0,2109.1 2542.1,2065.5 2538.1,1995.0 2534.1,1914.1 2530.1,1918.9 2526.2,1871.3 2522.2,1828.2 2518.2,1765.9 2514.3,1682.9 2510.3,1671.8 2506.3,1610.2 2502.3,1633.4 2498.4,1669.7 2494.4,1759.5 2490.4,1817.7 2486.4,1863.6 2482.5,1818.4 2478.5,1720.2 2474.5,1696.9 2470.5,1670.1 2466.6,1687.5 2462.6,1732.8 2458.6,1737.9 2454.7,1815.3 2450.7,1794.3 2446.7,1757.0 2442.7,1746.3 2438.8,1754.2 2434.8,1671.3 2430.8,1624.3 2426.8,1664.2 2422.9,1694.7 2418.9,1704.0 2414.9,1674.6 2410.9,1700.2 2407.0,1767.2 2403.0,1788.0 2399.0,1772.8 2395.1,1793.9 2391.1,1841.3 2387.1,1871.0 2383.1,1885.7 2379.2,1937.0 2375.2,1952.9 2371.2,1935.1 2367.2,1930.2 2363.3,1884.7 2359.3,1972.9 2355.3,1980.4 2351.3,1952.5 2347.4,1945.1 2343.4,1856.9 2339.4,1830.3 2335.5,1819.0 2331.5,1801.9 2327.5,1826.3 2323.5,1809.6 2319.6,1799.5 2315.6,1777.7 2311.6,1735.5 2307.6,1694.8 2303.7,1655.5 2299.7,1575.2 2295.7,1536.1 2291.7,1520.9 2287.8,1487.8 2283.8,1509.8 2279.8,1615.5 2275.9,1591.1 2271.9,1559.0 2267.9,1588.4 2263.9,1659.1 2260.0,1740.2 2256.0,1787.0 2252.0,1833.0 2248.0,2023.4 2244.1,2053.9 2240.1,2014.9 2236.1,1976.3 2232.1,1959.7 2228.2,1899.6 2224.2,1878.1 2220.2,1813.3 2216.3,1785.8 2212.3,1789.7 2208.3,1846.4 2204.3,1904.6 2200.4,1956.4 2196.4,1929.7 2192.4,1876.5 2188.4,1842.1 2184.5,1924.6 2180.5,1955.2 2176.5,1880.3 2172.5,1829.0 2168.6,1806.1 2164.6,1763.6 2160.6,1696.6 2156.7,1679.0 2152.7,1604.5 2148.7,1533.5 2144.7,1494.3 2140.8,1450.5 2136.8,1443.4 2132.8,1380.2 2128.8,1395.9 2124.9,1351.6 2120.9,1409.0 2116.9,1467.3 2112.9,1429.9 2109.0,1401.1 2105.0,1421.7 2101.0,1433.6 2097.1,1377.0 2093.1,1380.0 2089.1,1386.6 2085.1,1326.3 2081.2,1348.6 2077.2,1326.0 2073.2,1425.3 2069.2,1499.4 2065.3,1518.5 2061.3,1551.4 2057.3,1489.8 2053.3,1460.2 2049.4,1460.8 2045.4,1445.3 2041.4,1424.1 2037.5,1410.4 2033.5,1327.7 2029.5,1346.9 2025.5,1344.6 2021.6,1356.0 2017.6,1284.4 2013.6,1203.1 2009.6,1189.6 2005.7,1137.6 2001.7,1093.0 1997.7,1040.3 1993.7,1021.7 1989.8,1073.1 1985.8,1089.1 1981.8,1057.4 1977.9,1010.8 1973.9,919.4 1969.9,853.8 1965.9,853.7 1962.0,821.7 1958.0,805.9 1954.0,783.7 1950.0,744.3 1946.1,690.4 1942.1,676.5 1938.1,728.6 1934.1,695.3 1930.2,660.8 1926.2,611.6 1922.2,571.9 1918.3,523.4 1914.3,511.4 1910.3,537.7 1906.3,587.6 1902.4,621.4 1898.4,578.2 1894.4,523.8 1890.4,481.1 1886.5,463.9 1882.5,468.8 1878.5,500.4 1874.6,469.1 1870.6,469.6 1866.6,503.5 1862.6,515.0 1858.7,536.9 1854.7,525.6 1850.7,586.1 1846.7,593.1 1842.8,595.6 1838.8,618.8 1834.8,639.1 1830.8,655.2 1826.9,669.0 1822.9,687.7 1818.9,733.8 1815.0,701.8 1811.0,717.0 1807.0,720.8 1803.0,744.9 1799.1,712.5 1795.1,752.2 1791.1,772.9 1787.1,826.4 1783.2,858.3 1779.2,860.1 1775.2,887.4 1771.2,921.0 1767.3,932.1 1763.3,918.9 1759.3,958.4 1755.4,1013.7 1751.4,1082.7 1747.4,1121.2 1743.4,1142.8 1739.5,1185.6 1735.5,1235.0 1731.5,1253.7 1727.5,1310.0 1723.6,1437.0 1719.6,1442.1 1715.6,1495.5 1711.6,1531.7 1707.7,1557.5 1703.7,1551.4 1699.7,1581.9 1695.8,1557.2 1691.8,1556.2 1687.8,1551.0 1683.8,1464.2 1679.9,1425.4 1675.9,1420.3 1671.9,1390.4 1667.9,1347.7 1664.0,1350.8 1660.0,1327.5 1656.0,1312.9 1652.0,1310.8 1648.1,1290.3 1644.1,1380.5 1640.1,1389.4 1636.2,1398.6 1632.2,1450.0 1628.2,1547.4 1624.2,1596.7 1620.3,1688.6 1616.3,1760.5 1612.3,1779.3 1608.3,1801.1 1604.4,1807.3 1600.4,1812.9 1596.4,1830.3 1592.4,1780.4 1588.5,1782.8 1584.5,1779.2 1580.5,1770.9 1576.6,1790.4 1572.6,1748.5 1568.6,1808.0 1564.6,1793.0 1560.7,1811.6 1556.7,1780.8 1552.7,1808.5 1548.7,1854.1 1544.8,1844.4 1540.8,1859.6 1536.8,1878.4 1532.8,1863.5 1528.9,1893.6 1524.9,1876.9 1520.9,1837.7 1517.0,1817.4 1513.0,1730.0 1509.0,1649.9 1505.0,1680.4 1501.1,1657.3 1497.1,1567.8 1493.1,1509.0 1489.1,1472.1 1485.2,1480.6 1481.2,1493.4 1477.2,1504.2 1473.2,1501.6 1469.3,1542.1 1465.3,1603.0 1461.3,1631.7 1457.4,1647.1 1453.4,1693.9 1449.4,1697.4 1445.4,1747.5 1441.5,1782.7 1437.5,1891.4 1433.5,1908.0 1429.5,1895.5 1425.6,1860.2 1421.6,1962.9 1417.6,1985.1 1413.6,1929.0 1409.7,1934.7 1405.7,1918.8 1401.7,1853.8 1397.8,1806.7 1393.8,1736.7 1389.8,1711.7 1385.8,1660.9 1381.9,1651.7 1377.9,1663.1 1373.9,1674.1 1369.9,1682.3 1366.0,1689.4 1362.0,1633.0 1358.0,1569.5 1354.0,1536.1 1350.1,1522.5 1346.1,1569.7 1342.1,1580.0 1338.2,1621.9 1334.2,1688.8 1330.2,1722.4 1326.2,1739.8 1322.3,1800.0 1318.3,1865.8 1314.3,1863.4 1310.3,1869.9 1306.4,1898.5 1302.4,1955.4 1298.4,2051.8 1294.4,2113.6 1290.5,2128.6 1286.5,2111.9 1282.5,2100.4 1278.6,2066.8 1274.6,2028.5 1270.6,1981.2 1266.6,1900.5 1262.7,1827.3 1258.7,1838.0 1254.7,1821.9 1250.7,1790.2 1246.8,1687.7 1242.8,1677.7 1238.8,1579.2 1234.8,1582.7 1230.9,1583.2 1226.9,1523.6 1222.9,1561.2 1219.0,1591.1 1215.0,1560.3 1211.0,1550.6 1207.0,1508.3 1203.1,1536.7 1199.1,1606.0 1195.1,1615.0 1191.1,1537.1 1187.2,1445.1 1183.2,1383.9 1179.2,1384.5 1175.2,1359.2 1171.3,1398.8 1167.3,1454.8 1163.3,1445.5 1159.4,1437.7 1155.4,1486.0 1151.4,1529.5 1147.4,1538.5 1143.5,1504.9 1139.5,1531.8 1135.5,1579.2 1131.5,1621.5 1127.6,1620.9 1123.6,1677.6 1119.6,1703.4 1115.6,1665.3 1111.7,1693.0 1107.7,1653.8 1103.7,1654.5 1099.8,1649.5 1095.8,1623.5 1091.8,1660.8 1087.8,1645.4 1083.9,1630.0 1079.9,1614.2 1075.9,1597.4 1071.9,1543.7 1068.0,1535.0 1064.0,1585.7 1060.0,1592.6 1056.0,1580.5 1052.1,1592.6 1048.1,1624.3 1044.1,1678.6 1040.2,1694.6 1036.2,1703.6 1032.2,1743.5 1028.2,1767.4 1024.3,1723.0 1020.3,1718.6 1016.3,1661.6 1012.3,1644.5 1008.4,1606.0 1004.4,1523.4 1000.4,1522.0 996.4,1526.1 992.5,1532.0 988.5,1559.3 984.5,1628.2 980.6,1686.6 976.6,1680.4 972.6,1673.0 968.6,1626.5 964.7,1613.7 960.7,1587.2 956.7,1593.6 952.7,1641.2 948.8,1682.8 944.8,1718.5 940.8,1743.9 936.9,1679.1 932.9,1625.1 928.9,1551.1 924.9,1528.8 921.0,1517.8 917.0,1555.0 913.0,1624.4 909.0,1641.1 905.1,1610.9 901.1,1627.2 897.1,1672.5 893.1,1671.8 889.2,1710.8 885.2,1659.2 881.2,1628.0 877.3,1603.8 873.3,1652.1 869.3,1646.6 865.3,1631.2 861.4,1710.2 857.4,1774.8 853.4,1820.0 849.4,1847.5 845.5,1787.8 841.5,1688.5 837.5,1581.8 833.5,1578.9 829.6,1613.4 825.6,1616.2 821.6,1629.5 817.7,1574.8 813.7,1527.5 809.7,1474.0 805.7,1443.2 801.8,1429.2 797.8,1409.4 793.8,1403.8 789.8,1446.9 785.9,1473.1 781.9,1502.8 777.9,1584.5 773.9,1637.2 770.0,1673.2 766.0,1697.4 762.0,1717.7 758.1,1678.0 754.1,1647.5 750.1,1688.5 746.1,1823.3 742.2,1869.8 738.2,1908.2 734.2,1877.9 730.2,1848.6 726.3,1843.0 722.3,1817.6 718.3,1784.8 714.3,1758.5 710.4,1792.1 706.4,1825.7 702.4,1879.0 698.5,1850.8 694.5,1798.7 690.5,1714.1 686.5,1737.7 682.6,1738.1 678.6,1762.0 674.6,1755.9 670.6,1710.3 666.7,1729.8 662.7,1694.9 658.7,1672.0 654.7,1678.6 650.8,1655.7 646.8,1616.5 642.8,1605.9 638.9,1608.8 634.9,1613.8 630.9,1624.6 626.9,1658.1 623.0,1682.7 619.0,1735.7 615.0,1670.4 611.0,1599.4 607.1,1594.1 603.1,1586.7 599.1,1585.6 595.1,1491.5 591.2,1528.2 587.2,1528.0 583.2,1578.9 579.3,1562.8 575.3,1460.0 571.3,1488.3 567.3,1460.6 563.4,1464.5 559.4,1483.7 555.4,1446.5 551.4,1457.7 547.5,1469.1 543.5,1422.2 539.5,1441.9 535.5,1420.8 531.6,1451.8 527.6,1461.4 523.6,1497.9 519.7,1557.5 515.7,1624.0 511.7,1616.4 507.7,1590.6 503.8,1601.9 499.8,1608.5 495.8,1591.7 491.8,1635.6 487.9,1635.8 483.9,1651.2 479.9,1725.8 475.9,1758.5 472.0,1882.0 468.0,2260.0" fill="#2a2eec" fill-opacity="0.4" stroke="#2a2eec" stroke-opacity="0.4" stroke-width="5.5"/>
<polyline points="468.0,2227.0 472.0,1810.0 475.7,1730.0 480.3,1706.7 483.3,1620.0 488.3,1612.7 492.7,1621.7 496.0,1591.7 501.0,1581.7 504.0,1556.7 508.3,1566.7 511.7,1618.3 517.3,1600.0 523.3,1461.7 528.3,1476.7 536.0,1371.7 538.3,1416.7 544.0,1426.7 547.7,1441.7 551.7,1425.0 556.0,1436.7 560.0,1420.7 564.3,1425.0 571.0,1496.7 575.7,1456.7 579.3,1556.7 583.3,1591.7 587.7,1493.3 591.7,1505.0 595.7,1456.7 599.3,1583.3 603.3,1616.7 607.7,1576.7 611.7,1625.0 615.7,1600.0 619.3,1740.0 624.0,1623.3 627.7,1608.3 631.7,1620.0 635.7,1561.7 640.0,1606.7 651.0,1655.0 655.3,1600.0 660.0,1630.0 663.3,1711.7 671.0,1656.7 674.3,1746.7 679.3,1753.3 682.7,1705.0 686.7,1736.7 690.7,1693.3 695.0,1800.0 698.3,1840.0 702.7,1855.0 705.7,1776.7 710.7,1836.7 714.0,1733.3 719.3,1713.3 722.7,1828.3 730.7,1851.7 735.0,1886.7 739.0,1930.0 744.0,1833.3 748.3,1783.3 750.0,1623.3 760.7,1627.3 761.7,1666.7 767.7,1683.3 774.3,1586.7 780.0,1556.7 786.7,1423.3 790.0,1421.7 794.0,1335.0 798.3,1421.7 802.7,1406.7 808.3,1456.7 815.0,1503.3 818.3,1503.3 821.7,1628.3 826.0,1560.0 830.0,1596.7 837.7,1511.7 843.3,1786.7 850.0,1798.3 853.3,1763.3 858.3,1763.3 861.7,1700.0 865.7,1596.7 870.0,1646.7 874.0,1630.0 877.7,1591.7 882.3,1583.3 885.7,1656.7 890.0,1700.0 893.3,1623.3 898.3,1633.3 901.7,1600.0 905.7,1580.0 909.3,1641.7 913.3,1593.3 917.3,1470.0 921.0,1523.3 925.7,1496.7 929.3,1516.7 932.7,1628.3 941.0,1706.7 945.0,1688.3 949.0,1693.3 952.7,1598.3 956.7,1558.3 961.7,1570.0 969.0,1576.7 973.3,1688.3 976.7,1621.7 980.7,1671.7 984.3,1630.0 988.3,1525.0 992.7,1536.7 996.7,1480.0 1000.7,1535.0 1004.3,1526.7 1011.7,1656.7 1016.7,1675.0 1020.7,1718.3 1024.0,1701.7 1029.0,1768.3 1036.7,1683.3 1040.0,1701.7 1044.3,1701.7 1047.7,1586.7 1052.3,1606.7 1056.0,1536.7 1060.0,1630.0 1064.0,1565.0 1072.3,1518.3 1076.7,1585.0 1080.0,1585.0 1084.0,1548.3 1088.3,1698.3 1096.0,1550.0 1104.3,1671.7 1107.7,1613.3 1112.3,1651.7 1115.7,1650.0 1120.0,1703.3 1124.0,1611.7 1134.3,1583.3 1137.3,1566.7 1143.3,1475.0 1146.0,1533.3 1151.0,1536.7 1155.0,1433.3 1162.7,1416.7 1167.3,1441.7 1171.7,1330.0 1175.0,1365.0 1180.0,1350.0 1184.0,1366.7 1188.3,1423.3 1191.7,1536.7 1195.7,1598.3 1200.0,1576.7 1207.7,1498.3 1211.7,1536.7 1215.7,1553.3 1219.3,1561.7 1223.3,1525.0 1227.3,1488.3 1231.0,1560.0 1235.7,1563.3 1240.0,1613.3 1244.3,1630.0 1248.3,1723.3 1249.3,1806.7 1255.0,1763.3 1258.3,1825.0 1263.3,1823.3 1267.7,1850.0 1270.0,1996.7 1274.3,2036.7 1280.7,2071.7 1286.7,2075.0 1290.7,2086.7 1295.0,2116.7 1299.3,2010.0 1303.3,1926.7 1307.7,1876.7 1310.7,1816.7 1314.0,1846.7 1319.0,1848.3 1323.3,1760.0 1326.7,1720.0 1330.0,1693.3 1335.0,1706.7 1336.7,1560.0 1342.7,1573.3 1346.7,1510.0 1350.7,1480.0 1355.0,1526.7 1358.3,1580.0 1363.3,1623.3 1366.0,1668.3 1370.7,1670.0 1374.3,1655.0 1378.3,1616.7 1382.7,1623.3 1386.7,1650.0 1390.0,1676.7 1394.0,1696.7 1396.7,1808.3 1402.3,1785.0 1405.7,1876.7 1409.0,1936.7 1413.3,1883.3 1417.7,1983.3 1421.7,1960.0 1424.3,1853.3 1429.3,1848.3 1433.3,1900.0 1439.0,1860.0 1441.0,1780.0 1448.3,1673.3 1453.3,1675.0 1457.3,1660.0 1461.7,1616.7 1466.7,1590.0 1470.0,1510.0 1472.7,1435.0 1476.7,1515.0 1481.0,1438.3 1485.0,1468.3 1489.3,1455.0 1493.3,1490.0 1497.7,1543.3 1501.0,1623.3 1505.0,1645.0 1509.3,1633.3 1514.0,1720.0 1515.7,1776.7 1521.0,1793.3 1524.3,1876.7 1529.3,1870.0 1533.3,1841.7 1537.3,1846.7 1540.7,1865.0 1544.3,1768.3 1549.3,1851.7 1556.7,1728.3 1561.0,1793.3 1565.0,1753.3 1569.0,1820.0 1572.7,1748.3 1576.7,1770.0 1580.7,1730.0 1585.0,1820.0 1589.0,1811.7 1592.3,1753.3 1596.7,1825.0 1601.0,1786.7 1605.0,1758.3 1608.3,1805.0 1614.0,1801.7 1617.7,1718.3 1626.7,1523.3 1631.7,1450.0 1635.0,1390.0 1639.3,1353.3 1644.3,1340.0 1648.3,1225.0 1653.3,1256.7 1655.7,1316.7 1660.7,1280.0 1664.0,1336.7 1668.3,1353.3 1675.0,1386.7 1680.7,1401.7 1685.0,1443.3 1688.3,1533.3 1691.7,1551.7 1696.7,1553.3 1700.0,1601.7 1705.0,1543.3 1710.0,1498.3 1715.7,1501.7 1720.0,1426.7 1724.0,1383.3 1727.7,1260.0 1731.7,1245.0 1736.0,1210.0 1740.0,1153.3 1743.3,1100.0 1748.3,1125.0 1752.7,1101.7 1754.3,980.0 1758.3,930.0 1763.3,923.3 1767.3,901.7 1771.7,890.0 1775.7,863.3 1779.3,825.0 1784.0,850.0 1788.3,801.7 1795.0,733.3 1799.0,710.0 1803.3,728.3 1807.7,731.7 1811.7,690.0 1815.0,675.0 1819.3,690.0 1823.3,665.0 1827.7,696.7 1830.7,646.7 1835.7,645.0 1840.0,596.7 1842.7,565.0 1847.7,560.0 1851.7,546.7 1854.3,498.3 1859.3,485.0 1862.7,426.7 1866.7,470.0 1870.7,506.7 1874.3,436.7 1878.3,490.0 1882.7,493.3 1886.7,435.0 1891.0,463.3 1894.3,530.0 1899.3,538.3 1902.3,598.3 1906.7,590.0 1909.3,488.3 1913.3,493.3 1918.3,513.3 1921.7,563.3 1926.7,570.0 1930.7,646.7 1934.0,736.7 1938.3,706.7 1942.7,681.7 1946.7,668.3 1951.0,683.3 1953.3,756.7 1958.3,803.3 1962.3,848.3 1966.7,805.0 1971.0,820.0 1975.0,916.7 1978.3,986.7 1981.7,1030.0 1986.0,1091.7 1990.7,1058.3 1998.3,1050.0 2001.7,1096.7 2006.7,1105.0 2009.3,1201.7 2014.0,1135.0 2016.7,1266.7 2021.0,1335.0 2025.0,1335.0 2029.0,1341.7 2033.3,1306.7 2037.7,1406.7 2041.7,1400.0 2045.0,1418.3 2049.3,1415.0 2053.3,1395.0 2057.3,1460.0 2061.7,1543.3 2066.7,1506.7 2070.0,1481.7 2073.3,1396.7 2076.7,1300.0 2081.7,1336.7 2085.0,1280.0 2089.3,1380.0 2093.3,1373.3 2097.3,1318.3 2101.7,1426.7 2105.7,1401.7 2110.0,1411.7 2113.3,1410.0 2117.3,1460.0 2121.7,1380.0 2125.0,1311.7 2128.3,1381.7 2133.3,1388.3 2136.7,1461.7 2141.7,1460.0 2146.7,1493.3 2150.0,1523.3 2153.3,1630.0 2156.7,1691.7 2160.7,1695.0 2164.0,1740.0 2168.3,1813.3 2173.3,1795.0 2176.7,1880.0 2180.0,1933.3 2184.3,1951.7 2188.3,1765.0 2192.7,1836.7 2196.7,1955.0 2201.0,1935.0 2205.0,1866.7 2209.0,1820.0 2212.3,1751.7 2216.7,1788.3 2221.0,1768.3 2225.0,1830.0 2229.3,1908.3 2233.3,1935.0 2236.7,1981.7 2241.0,1958.3 2244.3,2053.3 2249.0,1993.3 2251.7,1840.0 2256.0,1775.0 2260.7,1773.3 2262.7,1643.3 2266.7,1596.7 2271.7,1540.0 2276.0,1575.0 2280.7,1571.7 2285.0,1520.0 2287.7,1450.0 2291.7,1515.0 2296.0,1503.3 2301.0,1550.0 2303.3,1673.3 2306.7,1706.7 2311.7,1701.7 2315.7,1740.0 2323.3,1801.7 2327.3,1818.3 2331.7,1770.0 2336.7,1795.0 2343.3,1820.0 2346.7,1955.0 2351.7,1945.0 2356.0,1951.7 2360.0,1946.7 2363.3,1835.0 2367.7,1933.3 2371.0,1926.7 2375.0,1911.7 2379.3,1910.0 2383.3,1856.7 2387.3,1818.3 2391.7,1843.3 2395.0,1775.0 2399.3,1760.0 2403.3,1780.0 2406.7,1796.7 2409.3,1665.0 2414.0,1646.7 2418.3,1703.3 2422.7,1640.0 2426.7,1651.7 2430.7,1620.0 2435.0,1623.3 2438.3,1748.3 2443.3,1698.3 2447.3,1763.3 2451.0,1790.0 2455.7,1788.3 2459.0,1733.3 2463.3,1720.0 2466.0,1648.3 2470.7,1671.7 2474.3,1660.0 2480.0,1723.3 2482.3,1820.0 2487.3,1821.7 2491.7,1783.3 2495.7,1745.0 2497.3,1661.7 2501.7,1653.3 2506.0,1610.0 2510.0,1650.0 2514.3,1623.3 2516.7,1763.3 2520.0,1803.3 2525.0,1865.0 2529.0,1916.7 2535.0,1918.3 2539.0,1928.3 2541.7,2083.3 2546.7,2070.0 2548.3,2215.0 2554.0,2231.7 2558.3,2196.7 2561.7,2140.0 2566.0,2083.3 2568.3,2166.7 2570.7,2260.0 2576.0,2390.0 2581.7,2375.0 2585.7,2446.7 2591.0,2383.3 2593.3,2243.3 2598.3,2171.7 2601.0,2106.7 2605.7,2091.7 2610.0,2085.0 2613.3,2183.3 2617.3,2221.7 2621.7,2183.3 2626.7,1963.3 2631.7,1876.7 2636.7,1746.7 2641.0,1668.3 2645.0,1658.3 2649.3,1675.0 2653.3,1626.7 2657.3,1635.0 2661.7,1670.0 2669.3,1513.3 2673.3,1558.3 2677.3,1596.7 2681.7,1601.7 2686.0,1630.0 2690.0,1696.7 2694.3,1730.0 2696.7,1861.7 2700.0,1906.7 2705.0,1896.7 2707.7,1950.0 2713.3,1908.3 2716.0,2058.3 2720.0,2063.3 2725.0,2080.0 2730.0,1993.3 2736.7,1898.3 2741.7,1896.7 2748.3,1900.0 2752.3,1930.0 2756.0,1846.7 2760.0,1811.7 2764.3,1800.0 2768.3,1808.3 2772.3,1776.7 2776.7,1745.0 2780.7,1773.3 2785.0,1850.0 2788.3,1906.7 2792.7,1883.3 2796.7,1913.3 2801.0,1901.7 2803.3,1746.7 2808.3,1730.0 2812.7,1711.7 2816.7,1716.7 2820.0,1776.7 2826.7,1821.7 2831.7,1836.7 2836.0,1845.0 2840.0,1826.7 2844.3,1796.7 2848.3,1788.3 2851.7,1726.7 2856.0,1713.3 2859.3,1775.0 2864.0,1766.7 2866.7,1840.0 2871.0,1861.7 2875.0,2000.0 2883.9,1880.0 2891.9,1919.0 2895.0,1750.0 2898.3,1720.0 2902.7,1693.3 2906.7,1683.3 2911.7,1680.0 2914.0,1545.0 2919.0,1541.7 2923.3,1600.0 2927.3,1543.3 2931.7,1526.7 2936.0,1528.3 2939.0,1490.0 2943.3,1463.3 2947.3,1496.7 2951.7,1388.3 2956.0,1443.3 2960.0,1553.3 2964.0,1650.0 2967.3,1715.0 2971.7,1680.0 2975.0,1650.0 2979.0,1576.7 2983.3,1580.0 2988.3,1613.3 2991.7,1636.7 2995.0,1720.0 2999.0,1666.7 3003.3,1671.7 3007.3,1696.7 3011.7,1643.3 3015.7,1530.0 3019.0,1468.3 3023.3,1533.3 3027.7,1523.3 3031.0,1466.7 3035.7,1473.3 3039.0,1521.7 3044.0,1523.3 3047.3,1520.0 3051.0,1463.3 3054.3,1591.7 3058.3,1573.3 3062.7,1658.3 3066.7,1681.7 3070.7,1650.0 3074.3,1753.3 3078.3,1755.0 3081.7,1825.0 3086.0,1833.3 3090.0,1760.0 3095.0,1835.0 3099.3,1790.0 3103.3,1763.3 3106.7,1691.7 3109.3,1466.7 3113.3,1436.7 3117.7,1420.0 3121.7,1378.3 3126.7,1385.0 3130.7,1373.3 3132.3,1288.3 3139.0,1276.7 3141.0,1220.0 3146.7,1196.7 3150.0,1108.3 3154.3,1153.3 3158.3,1128.3 3161.7,1163.3 3166.0,1156.7 3170.0,1145.0 3173.3,1028.3 3178.3,1068.3 3182.3,1016.7 3186.0,983.3 3189.3,1050.0 3193.3,946.7 3197.7,933.3 3201.7,993.3 3205.7,1056.7 3210.0,1003.3 3213.3,945.0 3217.7,1000.0 3221.7,970.0 3225.7,936.7 3230.0,953.3 3233.3,908.3 3237.3,893.3 3241.0,850.0 3245.7,808.3 3255.0,770.0 3256.7,693.3 3260.7,640.0 3265.7,685.0 3270.0,586.7 3274.0,616.7 3277.7,533.3 3281.7,483.3 3285.0,571.7 3288.3,431.7 3292.7,426.7 3296.7,410.0 3300.0,463.3 3305.0,466.7 3310.0,420.0 3313.3,396.7 3316.7,385.0 3321.0,385.0 3325.0,383.3 3328.3,433.3 3333.3,420.0 3336.7,440.0 3340.7,396.7 3344.3,345.0 3348.3,396.7 3352.3,428.3 3356.0,363.3 3360.7,271.7 3364.3,363.3 3368.3,440.0 3372.3,320.0 3376.0,393.3 3380.0,400.0 3384.3,388.3 3388.3,426.7 3393.3,463.3 3396.7,513.3 3400.0,585.0 3404.3,585.0 3408.3,600.0 3412.7,601.7 3415.7,701.7 3420.7,675.0 3425.0,698.3 3429.3,711.7 3433.3,763.3 3436.7,825.0 3440.7,825.0 3445.0,815.0 3448.3,815.0 3451.7,888.3 3456.7,860.0 3459.0,955.0 3463.3,926.7 3467.3,951.7 3471.7,935.0 3475.7,980.0 3480.0,855.0 3486.0,973.3 3490.7,1043.3 3495.0,1050.0 3500.0,1053.3 3502.7,1170.0 3507.7,1118.3 3511.7,1173.3 3515.0,1256.7 3519.3,1351.7 3523.3,1316.7 3526.7,1323.3 3531.0,1283.3 3535.0,1368.3 3539.0,1271.7 3543.3,1291.7 3547.3,1231.7 3551.7,1235.0 3555.0,1270.0 3559.0,1311.7 3563.3,1305.0 3566.7,1425.0 3570.7,1503.3 3575.0,1431.7 3579.0,1515.0 3583.3,1426.7 3587.3,1430.0 3591.0,1365.0 3595.0,1378.3 3599.3,1388.3 3603.3,1413.3 3607.7,1478.3 3611.7,1486.7 3615.0,1501.7 3619.0,1595.0 3622.7,1493.3 3630.0,1476.7 3635.0,1445.0 3638.3,1503.3 3643.3,1573.3 3648.3,1573.3 3653.3,1630.0 3657.3,1730.0 3662.7,1686.7 3666.0,1783.3 3670.0,1750.0 3675.0,1783.3 3677.7,1633.3 3682.3,1670.0 3686.0,1570.0 3690.0,1630.0 3694.0,1666.7 3698.3,1651.7 3702.3,1666.7 3705.0,1493.3 3709.0,1473.3 3714.0,1473.3 3718.3,1461.7 3721.7,1380.0 3726.0,1383.3 3729.3,1350.0 3734.3,1346.7 3736.7,1236.7 3741.7,1203.3 3746.0,1160.0 3750.0,1170.0 3755.0,1186.7 3758.3,1233.3 3761.7,1300.0 3766.0,1250.0 3769.3,1138.3 3774.0,1143.3 3778.3,1165.0 3782.7,1190.0 3786.7,1243.3 3790.0,1290.0 3792.7,1376.7 3796.7,1430.0 3801.0,1491.7 3805.7,1363.3 3809.3,1446.7 3812.7,1531.7 3818.3,1526.7 3821.7,1623.3 3826.7,1625.0 3829.3,1781.7 3833.3,1730.0 3838.3,1670.0 3841.0,1603.3 3846.0,1605.0 3849.3,1526.7 3853.3,1380.0 3857.3,1313.3 3861.7,1308.3 3865.0,1215.0 3869.3,1246.7 3873.3,1198.3 3877.3,1216.7 3881.7,1228.3 3885.0,1171.7 3889.3,1165.0 3893.3,1215.0 3897.3,1158.3 3901.0,1246.7 3904.3,1343.3 3910.0,1383.3 3914.0,1490.0 3916.7,1561.7 3921.0,1526.7 3927.3,1566.7 3932.7,1533.3 3936.7,1596.7 3940.7,1700.0 3945.0,1580.0 3950.0,1540.0 3952.7,1418.3 3957.3,1433.3 3963.3,1276.7 3971.7,1246.7 3976.7,1195.0 3980.0,1180.0 3984.3,1110.0 3988.3,1080.0 3992.3,1050.0 3996.0,1108.3 4000.0,1056.7 4004.3,1083.3 4008.3,1080.0 4012.3,1161.7 4016.7,1133.3 4020.0,1146.7 4025.0,1143.3 4028.3,1213.3 4032.3,1275.0 4035.7,1185.0 4040.0,1236.7 4044.0,1110.0 4048.3,1130.0 4053.3,1160.0 4056.7,1195.0 4060.7,1191.7 4064.0,1245.0 4068.3,1238.3 4072.3,1211.7 4076.7,1218.3 4080.0,1333.3 4082.7,1383.3 4087.7,1293.3 4091.0,1456.7 4095.0,1520.0 4099.3,1658.3 4103.3,1680.0 4107.7,1760.0 4111.7,1665.0 4115.7,1671.7 4119.3,1516.7 4123.3,1513.3 4127.7,1563.3 4132.7,1530.0 4134.3,1443.3 4140.0,1216.7 4142.3,1130.0 4146.7,1076.7 4151.7,1088.3 4155.7,1006.7 4159.3,1080.0 4163.3,1106.7 4167.3,1088.3 4171.7,1120.0 4175.0,1146.7 4180.0,1145.0 4182.7,1218.3 4186.7,1221.7 4191.0,1210.0 4194.3,1236.7 4197.3,1353.3 4202.7,1395.0 4211.0,1348.3 4214.0,1230.0 4219.0,1325.0 4223.3,1283.3 4226.7,1240.0 4231.0,1226.7 4235.0,1235.0 4239.0,1266.7 4242.7,1215.0 4246.7,1246.7 4250.7,1266.7 4255.0,1216.7 4258.3,1136.7 4262.7,1126.7 4266.7,1143.3 4270.7,1170.0 4275.0,1180.0 4279.0,1200.0 4282.7,1250.0 4286.7,1270.0 4290.7,1216.7 4294.3,1181.7 4299.0,1188.3 4302.7,1276.7 4306.7,1268.3 4310.7,1328.3 4314.0,1273.3 4318.3,1316.7 4321.7,1203.3 4326.0,1283.3 4330.0,1201.7 4334.3,1213.3 4338.3,1188.3 4342.3,1200.0 4346.7,1245.0 4350.0,1213.3 4353.3,1341.7 4357.7,1325.0 4361.7,1360.0 4366.0,1343.3 4370.0,1316.7 4377.7,1235.0 4381.7,1305.0 4385.7,1245.0 4390.0,1256.7 4394.0,1283.3 4397.7,1295.0 4401.7,1266.7 4405.7,1156.7 4410.0,1275.0 4414.0,1211.7 4417.3,1180.0 4421.7,1186.7 4426.7,1203.3 4430.7,1226.7 4434.3,1250.0 4437.7,1263.3 4441.7,1236.7 4445.7,1260.0 4449.3,1201.7 4453.3,1260.0 4457.3,1293.3 4461.7,1233.3 4465.7,1180.0 4470.0,1171.7 4474.0,1186.7 4477.3,1236.7 4481.7,1215.0 4485.0,1273.3 4489.0,1263.3 4493.3,1215.0 4497.3,1240.0 4501.0,1263.3 4505.0,1245.0 4509.0,1246.7 4513.3,1221.7 4517.3,1226.7 4520.7,1313.3 4525.0,1296.7 4528.3,1213.3 4533.3,1226.7 4536.7,1216.7 4540.0,1126.7 4545.0,1101.7 4548.3,1163.3 4551.7,1233.3 4556.0,1250.0 4560.0,1233.3 4564.3,1211.7 4569.0,1243.3 4572.7,1220.0 4576.7,1223.3 4580.0,1276.7 4584.3,1308.3 4588.3,1220.0 4592.3,1256.7 4596.7,1275.0 4600.7,1245.0" fill="none" stroke="#000000" stroke-width="8.6" stroke-linejoin="round" stroke-linecap="round"/>
</g>
<rect x="470" y="242" width="321.7" height="108" fill="#ffffff" fill-opacity="0.8"/>
<text class="r2" x="488.8" y="314.8">R2: 0.99</text>
<rect x="4145" y="215.8" width="155.6" height="55" fill="#2a2eec" fill-opacity="0.2" stroke="#2a2eec" stroke-opacity="0.2" stroke-width="5.5"/>
<rect x="4145" y="331.1" width="155.6" height="55" fill="#2a2eec" fill-opacity="0.4" stroke="#2a2eec" stroke-opacity="0.4" stroke-width="5.5"/>
<line x1="4145" y1="472.8" x2="4300.6" y2="472.8" stroke="#000" stroke-width="8.4" stroke-linecap="round"/>
<text class="leg" x="4361.5" y="270.8">94% HDI</text>
<text class="leg" x="4361.5" y="386">50% HDI</text>
<text class="leg" x="4361.5" y="501.2">Observed</text>
<text class="tick" x="468.0" y="2686.8" text-anchor="middle">2022-01</text>
<text class="tick" x="945.0" y="2686.8" text-anchor="middle">2022-05</text>
<text class="tick" x="1434.0" y="2686.8" text-anchor="middle">2022-09</text>
<text class="tick" x="1918.0" y="2686.8" text-anchor="middle">2023-01</text>
<text class="tick" x="2395.0" y="2686.8" text-anchor="middle">2023-05</text>
<text class="tick" x="2884.0" y="2686.8" text-anchor="middle">2023-09</text>
<text class="tick" x="3369.0" y="2686.8" text-anchor="middle">2024-01</text>
<text class="tick" x="3849.0" y="2686.8" text-anchor="middle">2024-05</text>
<text class="tick" x="4338.0" y="2686.8" text-anchor="middle">2024-09</text>
<text class="tick" x="242.6" y="2407.5" text-anchor="end">8</text>
<text class="tick" x="242.6" y="2066.5" text-anchor="end">9</text>
<text class="tick" x="242.6" y="1724.5" text-anchor="end">10</text>
<text class="tick" x="242.6" y="1382.5" text-anchor="end">11</text>
<text class="tick" x="242.6" y="1041.5" text-anchor="end">12</text>
<text class="tick" x="242.6" y="699.5" text-anchor="end">13</text>
<text class="tick" x="242.6" y="357.5" text-anchor="end">14</text>
<text class="lab" x="2533.5" y="2790" text-anchor="middle">Days</text>
<text class="lab" transform="translate(103.2,1376) rotate(-90)" text-anchor="middle">Target Variable</text>
<text class="ttl" x="2533.7" y="107.7" text-anchor="middle">Estimated Target Variable Over Time</text>
</svg></body></html>
